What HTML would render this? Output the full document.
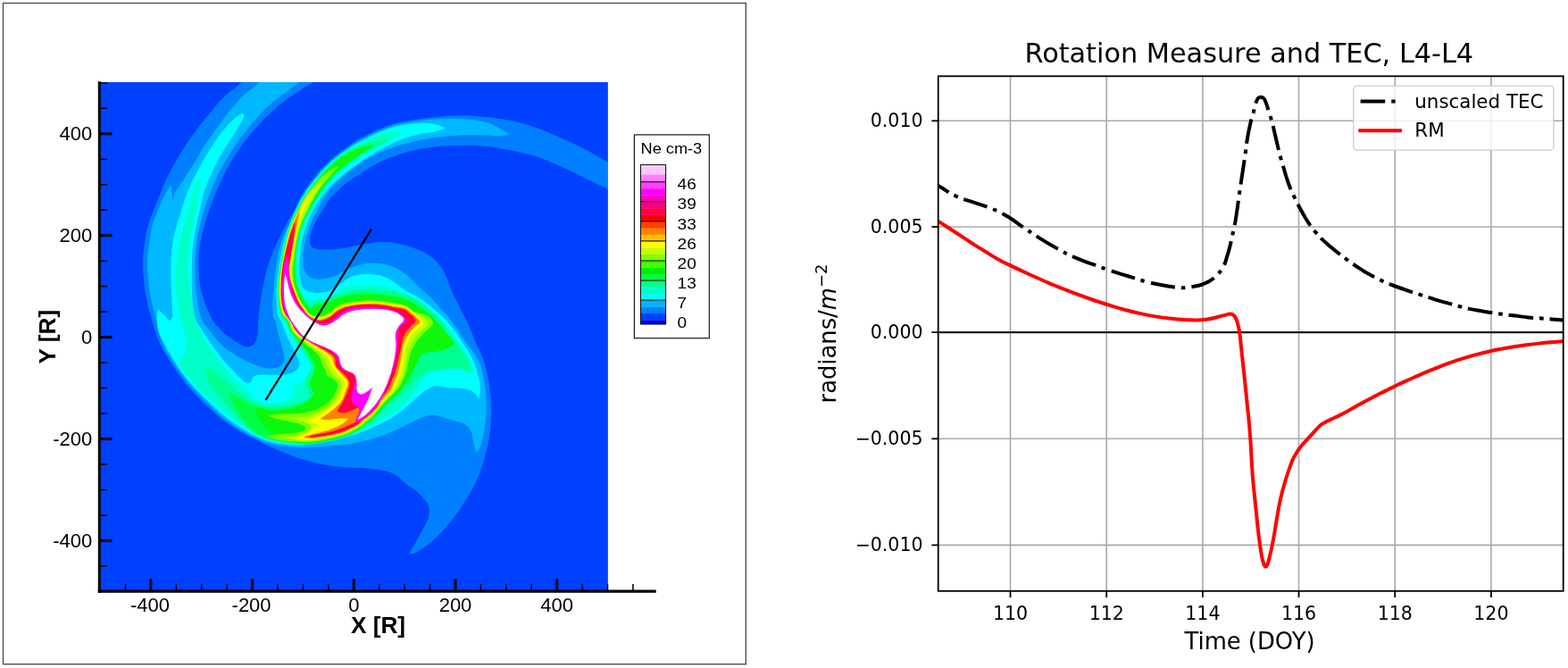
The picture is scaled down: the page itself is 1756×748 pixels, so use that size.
<!DOCTYPE html>
<html lang="en"><head><meta charset="utf-8"><title>Rotation Measure and TEC, L4-L4</title>
<style>html,body{margin:0;padding:0;background:#fff;overflow:hidden}svg{display:block}.h{font-family:"Liberation Sans",Arial,Helvetica,sans-serif;fill:#000}.d{font-family:"DejaVu Sans","Liberation Sans",sans-serif;fill:#000}</style></head><body>
<svg width="1756" height="748" viewBox="0 0 1756 748">
<rect width="1756" height="748" fill="#fff"/>
<g id="left">
<rect x="3.5" y="3.5" width="831.8" height="740.2" fill="#fff" stroke="#505050" stroke-width="1.4"/>
<defs><clipPath id="pc"><rect x="111.5" y="92" width="569.1" height="570"/></clipPath></defs>
<rect x="111.5" y="92" width="569.1" height="570" fill="#0040ff"/>
<defs><filter id="bl" x="100" y="80" width="600" height="600" filterUnits="userSpaceOnUse"><feGaussianBlur stdDeviation="0.75"/></filter></defs>
<g clip-path="url(#pc)">
<g filter="url(#bl)">
<rect x="100" y="80" width="600" height="600" fill="#0040ff"/>
<path d="M271.0,86.0C271.0,86.0 272.3,90.0 270.5,92.0C264.3,99.0 260.0,99.7 252.4,107.1C244.6,114.6 243.4,116.8 236.4,125.1C228.9,134.0 227.3,135.9 220.3,145.2C213.7,154.0 212.3,156.0 206.3,165.2C200.6,174.0 199.4,176.1 194.3,185.3C189.4,194.1 188.3,196.1 184.2,205.3C180.2,214.2 179.8,216.4 176.2,225.4C174.4,229.7 173.9,230.6 172.2,235.0C169.4,242.2 168.3,243.6 166.2,251.0C163.7,259.9 163.4,262.0 162.2,271.1C160.7,281.9 160.4,284.3 160.2,295.2C160.0,304.2 160.3,306.2 161.2,315.2C162.1,324.3 162.4,326.3 164.2,335.3C166.0,344.4 166.7,346.4 169.2,355.3C171.2,362.6 171.8,364.2 174.2,371.4C176.3,377.6 176.4,379.1 179.2,385.0C182.7,392.5 183.9,394.0 188.2,401.0C193.4,409.3 194.6,411.2 200.3,419.1C206.3,427.4 207.5,429.4 214.3,437.1C221.1,444.8 222.9,446.2 230.4,453.2C238.3,460.6 239.8,462.5 248.4,469.2C256.1,475.2 258.1,476.2 266.5,481.3C274.4,486.1 276.3,487.0 284.5,491.3C291.7,495.1 293.3,495.9 300.6,499.3C307.7,502.6 309.3,503.3 316.6,506.3C323.8,509.2 325.3,510.0 332.7,512.4C340.7,515.0 342.5,515.5 350.7,517.4C359.7,519.5 361.7,520.0 370.8,521.4C379.7,522.7 381.8,522.7 390.8,523.4C399.8,524.1 401.9,523.7 410.9,524.4C416.4,524.8 417.6,525.1 423.0,526.0C429.1,527.0 430.6,526.8 436.4,528.7C440.9,530.2 441.9,530.8 445.7,533.5C450.3,536.8 450.6,538.5 455.0,542.0C459.6,545.7 461.2,545.7 465.8,549.5C469.7,552.7 470.5,553.6 473.8,557.5C476.7,560.9 477.9,561.5 479.7,565.6C481.1,568.9 480.8,570.0 480.7,573.6C480.6,577.3 480.4,578.2 479.1,581.6C477.2,586.6 476.3,587.5 473.8,592.3C470.9,597.8 470.1,598.9 467.1,604.3C464.1,609.7 463.5,611.0 460.4,616.4C459.3,618.3 457.8,620.4 457.8,620.4C457.8,620.4 460.8,620.5 463.0,619.6C468.1,617.5 469.2,616.8 473.8,613.7C480.2,609.3 481.5,608.2 487.2,603.0C493.3,597.4 494.5,595.9 500.0,589.6C505.1,583.8 506.2,582.5 510.7,576.3C515.8,569.3 516.8,567.6 521.4,560.2C525.8,553.1 527.0,551.7 530.7,544.2C534.8,536.0 535.4,534.0 538.6,525.4C541.2,518.3 541.7,516.6 543.6,509.3C545.7,501.3 546.2,499.5 547.6,491.3C548.9,483.2 549.0,481.4 549.6,473.2C550.2,465.1 550.4,463.3 550.2,455.2C550.0,447.0 549.6,445.2 548.6,437.1C547.6,429.0 547.4,427.1 545.6,419.1C543.8,410.9 543.4,409.0 540.6,401.0C538.0,393.6 536.6,392.2 533.5,385.0C531.6,380.7 531.3,379.7 529.5,375.4C526.4,368.1 525.8,366.5 522.5,359.3C519.1,352.0 518.1,350.5 514.5,343.3C510.9,336.1 509.7,334.7 506.5,327.3C503.4,320.2 503.7,318.2 500.4,311.2C497.3,304.6 496.9,302.9 492.4,297.2C487.8,291.4 486.5,290.2 480.4,286.1C473.7,281.6 471.8,281.1 464.3,278.1C457.3,275.4 455.6,275.1 448.3,273.5C441.2,271.9 439.6,271.6 432.3,271.1C426.9,270.7 425.6,270.8 420.2,271.5C411.1,272.6 409.2,273.5 400.2,275.1C391.2,276.7 389.2,277.6 380.1,278.6C371.1,279.6 369.0,279.8 360.0,279.5C355.9,279.3 354.7,279.4 351.0,277.5C348.7,276.3 348.4,275.4 347.5,273.0C346.6,270.5 347.0,269.7 347.2,267.0C347.5,263.7 347.6,263.0 348.7,259.9C350.8,253.9 351.4,252.5 354.3,246.8C357.4,240.8 358.3,239.6 362.0,234.0C365.9,228.0 366.5,226.5 371.0,221.0C375.1,216.1 376.2,215.2 381.0,211.0C386.2,206.4 387.4,205.5 393.0,201.5C398.7,197.4 400.1,196.7 406.0,193.0C412.3,189.0 413.5,187.7 420.2,184.3C429.0,179.8 431.0,178.8 440.3,175.3C449.1,172.0 451.2,171.5 460.3,169.2C469.2,166.9 471.3,166.6 480.4,165.2C489.3,163.9 491.4,163.7 500.4,163.2C509.4,162.7 511.5,162.7 520.5,162.8C529.6,162.9 531.6,162.8 540.6,163.6C549.6,164.4 551.6,164.7 560.6,166.2C569.7,167.7 571.7,168.2 580.7,170.2C589.8,172.3 591.9,172.4 600.7,175.3C610.0,178.3 611.8,179.5 620.8,183.3C629.9,187.2 631.9,188.1 640.8,192.3C649.9,196.6 651.8,197.9 660.9,202.3C669.6,206.5 671.6,207.3 680.4,211.4C685.6,213.9 692.0,217.0 692.0,217.0C692.0,217.0 692.0,187.0 692.0,187.0C692.0,187.0 685.5,184.1 680.4,181.3C671.5,176.5 669.8,174.9 660.9,170.2C652.0,165.4 649.9,164.5 640.8,160.2C631.9,156.0 629.9,155.1 620.8,151.2C611.8,147.4 609.9,146.4 600.7,143.2C591.8,140.1 589.8,139.4 580.7,137.1C571.8,134.8 569.7,134.6 560.6,133.1C551.6,131.7 549.6,131.5 540.6,130.7C531.6,129.9 529.6,129.6 520.5,129.5C511.5,129.4 509.4,129.5 500.4,130.1C491.4,130.7 489.4,131.1 480.4,132.1C471.3,133.1 469.3,133.3 460.3,134.7C453.4,135.8 451.8,135.8 445.0,137.5C438.1,139.3 436.6,139.9 430.0,142.5C420.8,146.2 418.7,146.9 410.0,151.5C400.7,156.4 398.6,157.6 390.0,163.5C380.6,170.0 378.4,171.3 370.0,179.0C361.3,186.9 359.6,189.0 352.0,198.0C345.6,205.7 344.3,207.5 339.0,216.0C334.8,222.8 334.7,224.9 331.0,232.0C326.5,240.6 325.1,242.4 320.6,251.0C316.8,258.2 316.0,259.8 312.6,267.1C308.8,275.1 307.8,276.8 304.6,285.1C301.5,293.1 300.9,294.9 298.6,303.2C296.4,311.2 296.1,313.0 294.5,321.2C292.9,329.3 292.7,331.1 291.5,339.3C290.4,346.5 290.1,348.1 289.5,355.3C288.9,361.9 289.3,363.4 288.8,370.0C288.5,373.7 288.7,374.5 287.8,378.1C287.1,380.9 287.0,381.7 285.3,384.1C283.9,386.1 283.5,386.7 281.2,387.6C278.7,388.6 277.9,388.6 275.2,388.1C271.8,387.5 271.2,386.7 268.2,385.1C264.5,383.1 263.7,382.5 260.2,380.1C256.5,377.5 255.6,377.0 252.2,374.0C248.8,371.1 248.2,370.3 245.1,367.0C242.3,364.0 241.3,363.5 239.1,360.0C235.8,354.9 235.4,353.6 233.0,348.0C230.2,341.4 229.6,339.9 227.5,333.0C225.5,326.4 225.1,324.8 224.0,318.0C222.9,311.4 223.0,309.9 222.7,303.2C222.4,295.1 222.1,293.2 222.7,285.1C223.3,276.9 223.8,275.1 225.4,267.1C226.8,259.8 227.4,258.2 229.4,251.0C231.4,243.7 231.9,242.1 234.4,235.0C236.9,227.9 237.5,226.3 240.4,219.4C243.8,211.2 244.6,209.4 248.4,201.3C251.8,194.0 252.4,192.3 256.4,185.3C260.6,177.9 261.8,176.3 266.5,169.2C270.8,162.8 271.7,161.3 276.5,155.2C281.6,148.7 282.9,147.3 288.5,141.2C294.6,134.6 296.0,133.2 302.6,127.1C309.6,120.6 311.1,119.0 318.6,113.1C325.5,107.7 327.3,106.8 334.7,102.0C341.8,97.3 343.5,96.5 350.7,92.0C354.9,89.3 360.0,86.0 360.0,86.0C360.0,86.0 271.0,86.0 271.0,86.0Z" fill="#0080ff"/>
<path d="M291.0,86.0C291.0,86.0 292.3,90.0 290.5,92.0C284.3,99.0 280.1,99.7 272.5,107.1C265.6,113.8 264.5,115.7 258.4,123.1C251.9,131.0 250.5,132.9 244.4,141.2C237.9,150.1 236.4,152.0 230.4,161.2C224.6,170.0 223.8,172.3 218.3,181.3C213.9,188.5 212.9,190.2 208.3,197.3C204.8,202.8 203.8,203.9 200.3,209.3C198.0,212.9 197.0,213.5 195.3,217.4C193.8,220.8 193.3,225.4 193.3,225.4C193.3,225.4 191.8,207.3 191.8,207.3C191.8,207.3 188.4,211.6 186.2,215.4C183.2,220.6 182.7,221.9 180.2,227.4C178.7,230.7 178.5,231.6 177.2,235.0C174.5,242.2 173.3,243.6 171.2,251.0C168.7,259.9 168.4,262.0 167.2,271.1C165.7,281.9 165.4,284.3 165.2,295.2C165.0,304.2 165.3,306.2 166.2,315.2C167.1,324.3 167.5,326.3 169.2,335.3C170.6,342.6 171.3,344.1 173.2,351.3C174.9,357.7 175.5,359.0 177.2,365.4C179.5,374.2 178.8,376.5 182.2,385.0C185.3,392.7 186.9,394.0 191.3,401.0C196.4,409.3 197.5,411.2 203.3,419.1C209.2,427.1 210.6,428.8 217.3,436.1C224.2,443.7 226.0,445.1 233.4,452.2C240.9,459.4 242.3,461.4 250.4,468.0C258.1,474.2 260.1,475.3 268.5,480.6C276.4,485.5 278.1,486.7 286.5,490.6C293.5,493.9 295.2,494.5 302.6,496.6C309.7,498.6 311.3,498.6 318.6,499.6C325.8,500.6 327.4,500.8 334.7,501.0C341.9,501.2 343.5,500.9 350.7,500.6C357.6,500.3 359.1,500.1 366.0,499.5C373.2,498.9 374.8,498.8 382.0,498.0C390.2,497.0 392.1,497.0 400.2,495.5C407.5,494.1 409.1,493.6 416.2,491.5C423.5,489.3 425.1,488.7 432.3,486.0C439.6,483.2 441.2,482.6 448.3,479.3C455.6,475.9 457.0,474.6 464.3,471.2C469.6,468.7 470.8,468.0 476.4,466.2C479.9,465.1 480.7,464.6 484.4,464.8C489.9,465.1 491.1,465.8 496.4,467.2C501.9,468.7 503.1,469.4 508.5,471.2C513.9,473.0 515.7,472.2 520.5,475.3C524.5,477.9 525.5,478.9 527.5,483.3C530.2,489.2 528.9,491.1 530.5,497.3C531.6,501.4 533.5,506.3 533.5,506.3C533.5,506.3 536.4,504.0 537.5,501.3C539.6,496.2 539.4,494.8 540.6,489.3C542.2,482.1 542.7,480.5 543.6,473.2C544.5,465.1 544.6,463.3 544.6,455.2C544.6,447.0 544.4,445.2 543.6,437.1C543.0,431.0 542.6,429.6 541.5,423.6C540.3,417.4 540.4,416.0 538.5,410.0C537.0,405.3 536.2,404.4 533.8,400.0C532.0,396.8 531.4,396.2 529.3,393.2C526.7,389.5 525.9,388.8 523.3,385.2C520.1,380.7 519.4,379.7 516.2,375.2C513.0,370.7 512.4,369.6 509.2,365.1C506.1,360.6 505.6,359.4 502.2,355.1C498.4,350.4 497.3,349.6 493.2,345.1C488.7,340.1 487.9,338.8 483.1,334.0C478.8,329.7 477.5,329.2 473.1,325.0C468.5,320.6 467.7,319.4 463.0,315.0C458.3,310.6 457.7,309.0 452.3,305.5C445.6,301.1 443.9,300.0 436.3,297.5C429.3,295.2 427.5,295.1 420.2,294.8C413.0,294.5 411.2,294.6 404.2,296.2C396.7,297.9 395.2,299.1 388.1,302.2C381.6,305.0 380.7,306.8 374.1,309.2C368.0,311.4 366.6,312.0 360.1,312.4C354.6,312.7 352.9,313.3 348.0,310.8C343.9,308.7 343.1,307.3 341.3,303.0C339.1,297.5 339.6,295.9 339.5,290.0C339.4,283.2 339.7,281.7 341.0,275.0C342.5,267.2 343.1,265.5 345.5,258.0C347.4,252.0 347.9,250.7 350.5,245.0C352.6,240.3 353.6,239.5 356.0,235.0C359.7,228.0 359.5,225.8 364.1,219.4C370.4,210.6 372.2,208.8 380.1,201.3C388.5,193.4 390.7,191.9 400.2,185.3C408.8,179.3 410.8,177.9 420.2,173.2C428.9,168.8 431.1,168.4 440.3,165.2C449.2,162.1 451.2,161.5 460.3,159.2C469.2,157.0 471.3,156.7 480.4,155.2C489.4,153.8 491.4,153.7 500.4,152.8C509.4,151.9 511.4,151.6 520.5,151.2C529.5,150.8 531.6,151.0 540.6,151.2C549.6,151.4 551.6,152.5 560.6,152.2C565.2,152.0 570.6,150.2 570.6,150.2C570.6,150.2 563.2,145.3 556.6,142.2C549.6,138.9 548.1,137.9 540.6,136.1C531.7,134.0 529.6,134.2 520.5,133.5C511.5,132.8 509.4,133.0 500.4,133.1C491.4,133.2 489.4,133.3 480.4,134.1C471.3,134.9 469.3,135.3 460.3,136.7C453.4,137.8 451.8,137.8 445.0,139.5C438.1,141.3 436.6,141.9 430.0,144.5C420.8,148.2 418.7,148.9 410.0,153.5C400.7,158.4 398.6,159.5 390.0,165.5C380.6,172.1 378.4,173.6 370.0,181.5C361.7,189.2 360.2,191.3 353.0,200.0C346.9,207.5 345.7,209.3 340.5,217.5C336.6,223.7 336.1,225.4 332.8,232.0C328.5,240.5 327.6,242.4 323.6,251.0C320.3,258.2 319.2,259.6 316.6,267.1C313.8,275.0 313.4,276.9 311.6,285.1C309.8,293.2 309.7,295.0 308.6,303.2C307.5,311.3 307.3,313.1 306.6,321.2C305.9,329.3 305.7,331.1 305.6,339.3C305.5,346.5 305.1,348.4 306.2,355.3C306.6,357.7 308.0,357.7 308.8,360.0C309.7,362.6 309.2,363.3 309.8,366.0C310.6,369.6 310.9,370.4 311.8,374.0C312.9,378.1 313.2,379.0 314.3,383.1C315.4,387.2 315.8,388.0 316.8,392.1C317.7,395.7 318.2,396.4 318.4,400.1C318.5,402.8 318.6,403.7 317.4,406.1C316.2,408.4 315.6,408.9 313.3,410.2C310.4,411.8 309.5,411.8 306.3,412.2C302.7,412.7 301.9,412.6 298.3,412.2C294.6,411.7 293.8,411.3 290.3,410.2C286.6,409.0 285.8,408.6 282.2,407.1C278.1,405.4 277.2,405.1 273.2,403.1C269.1,401.0 268.2,400.5 264.2,398.1C260.0,395.6 259.1,395.0 255.2,392.1C251.4,389.2 250.5,388.5 247.1,385.1C243.7,381.7 243.1,380.8 240.1,377.1C236.8,373.1 236.2,372.1 233.1,368.0C230.4,364.4 229.0,364.1 227.1,360.0C224.1,353.6 224.0,351.9 222.5,345.0C220.6,336.1 220.4,334.1 219.5,325.0C218.6,315.1 218.6,312.9 218.5,303.0C218.4,294.9 218.4,293.1 218.9,285.1C219.4,277.0 219.6,275.1 220.9,267.1C222.1,259.8 222.5,258.2 224.3,251.0C226.1,243.7 226.8,242.2 228.8,235.0C229.5,232.5 229.5,231.9 230.4,229.4C232.9,222.2 233.5,220.5 236.4,213.4C239.8,205.2 240.4,203.3 244.4,195.3C248.5,187.0 249.7,185.3 254.4,177.3C258.7,169.9 259.7,168.2 264.5,161.2C269.6,153.8 270.8,152.2 276.5,145.2C282.5,137.7 283.9,136.1 290.5,129.1C296.6,122.6 297.8,120.9 304.6,115.1C311.4,109.2 313.5,108.6 320.6,103.1C327.0,98.2 328.4,97.0 334.7,92.0C338.0,89.3 342.0,86.0 342.0,86.0C342.0,86.0 291.0,86.0 291.0,86.0Z" fill="#00b8ff"/>
<path d="M271.5,127.1C271.5,127.1 267.3,128.8 264.5,131.1C258.6,136.1 257.4,137.4 252.4,143.2C246.5,150.0 245.5,151.8 240.4,159.2C235.6,166.2 234.7,168.0 230.4,175.3C225.7,183.3 224.7,185.1 220.3,193.3C216.5,200.4 215.5,201.9 212.3,209.3C209.2,216.4 208.9,218.1 206.3,225.4C204.8,229.7 204.7,230.7 203.3,235.0C201.1,242.2 200.3,243.7 198.3,251.0C196.3,258.2 195.7,259.8 194.3,267.1C192.8,275.1 192.5,277.0 191.9,285.1C191.2,294.1 191.3,296.2 191.3,305.2C191.3,314.2 191.6,316.3 191.9,325.3C192.2,333.4 192.8,335.2 192.7,343.3C192.6,349.9 194.3,354.7 191.5,358.0C189.0,361.0 187.2,355.8 184.2,353.3C180.7,350.3 177.2,345.9 177.2,345.9C177.2,345.9 175.7,351.0 175.8,355.3C176.0,362.6 175.8,364.4 177.8,371.4C179.6,377.9 181.1,379.0 184.2,385.0C188.0,392.3 188.9,394.0 193.3,401.0C198.4,409.3 199.4,411.3 205.3,419.1C211.1,426.8 212.7,428.4 219.3,435.5C226.2,442.9 228.0,444.3 235.4,451.2C242.9,458.2 244.4,460.1 252.4,466.5C260.2,472.7 262.1,474.0 270.5,479.3C278.3,484.2 280.1,485.4 288.5,489.3C295.5,492.5 297.2,493.1 304.6,495.0C311.7,496.8 313.3,496.8 320.6,497.6C327.8,498.4 329.5,498.7 336.7,498.4C345.4,498.1 347.4,497.5 356.0,496.3C363.3,495.2 364.9,494.9 372.1,493.3C379.4,491.7 381.0,491.3 388.1,489.3C395.4,487.3 397.1,487.0 404.2,484.3C411.6,481.5 413.1,480.6 420.2,477.3C426.6,474.3 428.1,473.7 434.3,470.2C440.8,466.5 442.3,465.6 448.3,461.2C454.0,457.1 455.0,455.8 460.3,451.2C464.9,447.2 465.6,446.0 470.4,442.2C474.7,438.7 475.6,437.8 480.4,435.1C483.8,433.2 484.6,432.3 488.4,432.1C493.9,431.8 495.0,433.5 500.4,434.1C507.6,434.9 509.3,434.3 516.5,435.1C521.1,435.6 522.2,435.5 526.5,437.1C529.6,438.3 530.2,438.9 532.5,441.2C534.8,443.5 536.5,447.2 536.5,447.2C536.5,447.2 537.9,439.5 537.8,433.1C537.8,428.8 537.3,427.8 536.3,423.6C534.9,417.4 534.5,416.0 532.5,410.0C530.9,405.4 530.4,404.4 528.3,400.0C526.3,395.9 525.7,395.1 523.3,391.2C520.7,387.0 519.9,386.3 517.2,382.2C514.5,378.1 514.1,377.1 511.2,373.1C508.2,368.9 507.5,368.1 504.2,364.1C501.2,360.4 500.6,359.5 497.2,356.1C493.3,352.3 492.3,351.6 488.1,348.1C483.2,343.9 482.3,342.8 477.1,339.0C471.9,335.1 470.7,334.3 465.1,331.0C459.8,327.8 458.2,327.8 453.0,324.5C447.8,321.2 447.2,319.8 442.0,316.5C436.9,313.3 435.9,312.4 430.3,310.1C426.0,308.3 424.8,308.3 420.2,307.6C415.7,306.9 414.7,307.0 410.2,307.0C405.7,307.0 404.6,306.8 400.2,307.8C395.5,308.9 394.4,309.1 390.2,311.5C385.3,314.3 384.9,315.9 380.2,319.1C375.8,322.1 375.0,323.0 370.1,325.1C365.8,327.0 364.7,327.3 360.0,327.8C355.5,328.3 354.4,328.4 350.0,327.3C345.2,326.2 343.3,326.6 340.0,323.0C336.5,319.1 337.4,317.1 336.3,312.0C335.2,306.7 335.3,305.4 335.2,300.0C335.1,294.1 335.2,292.8 335.8,287.0C336.7,278.9 336.7,277.0 338.5,269.0C340.5,260.3 341.2,258.4 344.3,250.0C346.9,243.1 347.3,241.4 351.0,235.0C356.3,225.8 357.4,223.6 364.1,215.4C370.6,207.5 372.4,206.1 380.1,199.3C387.8,192.5 389.9,191.3 398.2,185.3C406.1,179.6 407.9,178.3 416.2,173.2C424.1,168.3 426.0,167.4 434.3,163.2C442.2,159.2 444.0,158.2 452.3,155.2C460.3,152.3 462.2,152.0 470.4,150.2C478.4,148.4 480.4,149.0 488.4,147.2C493.5,146.0 499.4,143.6 499.4,143.6C499.4,143.6 495.7,141.7 492.4,140.8C487.1,139.3 485.9,138.5 480.4,138.1C471.4,137.5 469.3,137.9 460.3,138.7C453.4,139.3 451.8,139.6 445.0,141.2C438.1,142.9 436.6,143.4 430.0,146.0C420.8,149.7 418.8,150.6 410.0,155.2C400.3,160.3 398.0,161.3 389.0,167.5C379.3,174.1 377.1,175.6 368.5,183.5C360.4,190.9 359.0,193.0 352.0,201.5C345.9,209.0 344.7,210.8 339.5,219.0C335.9,224.6 335.3,226.0 332.5,232.0C328.6,240.4 327.8,242.3 324.5,251.0C321.8,258.1 321.3,259.8 319.2,267.1C316.9,275.1 316.5,276.9 314.8,285.1C313.1,293.2 312.8,295.0 311.7,303.2C310.6,311.3 310.2,313.1 309.8,321.2C309.4,329.3 309.5,331.2 310.0,339.3C310.5,346.5 310.2,348.4 312.0,355.3C312.6,357.8 314.1,357.7 315.3,360.0C316.6,362.6 316.4,363.3 317.4,366.0C318.7,369.6 318.9,370.4 320.4,374.0C322.1,378.1 322.5,379.0 324.4,383.1C326.1,386.7 326.6,387.5 328.4,391.1C330.2,394.7 330.7,395.4 332.4,399.1C333.6,401.8 334.4,402.2 334.9,405.1C335.3,407.8 335.6,408.7 334.4,411.2C333.0,414.1 332.2,414.6 329.4,416.2C325.7,418.3 324.6,418.4 320.4,419.2C315.9,420.0 314.8,419.6 310.3,419.7C305.8,419.8 304.8,419.7 300.3,419.7C295.8,419.7 294.8,419.4 290.3,419.7C288.0,419.9 287.3,419.6 285.3,420.7C283.5,421.7 283.4,422.5 282.2,424.2C281.1,425.9 281.9,427.2 280.2,428.2C278.2,429.3 277.2,429.1 275.2,428.2C272.0,426.7 271.8,425.6 269.2,423.2C265.9,420.2 265.3,419.4 262.2,416.2C259.0,413.0 258.3,412.4 255.2,409.1C252.4,406.0 251.7,405.4 249.1,402.1C246.3,398.6 245.8,397.7 243.1,394.1C240.4,390.5 239.7,389.8 237.1,386.1C234.3,382.1 233.8,381.2 231.1,377.1C228.4,373.0 227.8,372.1 225.1,368.0C222.8,364.4 221.6,364.0 220.1,360.0C217.7,353.5 217.5,351.9 216.5,345.0C215.2,336.1 215.3,334.0 215.0,325.0C214.6,315.2 214.8,313.0 214.9,303.2C215.0,295.1 214.8,293.2 215.3,285.1C215.8,277.0 216.1,275.2 217.3,267.1C218.4,259.8 218.8,258.2 220.3,251.0C221.8,243.8 222.3,242.2 223.9,235.0C225.1,229.8 225.0,228.6 226.4,223.4C228.4,216.1 228.7,214.4 231.4,207.3C234.2,199.9 235.1,198.4 238.4,191.3C241.8,184.0 242.5,182.3 246.4,175.3C250.6,167.9 251.9,166.4 256.4,159.2C260.9,152.0 262.2,150.5 266.5,143.2C269.9,137.4 271.8,135.5 273.5,130.1C274.0,128.6 271.5,127.1 271.5,127.1Z" fill="#00ffff"/>
<path d="M222.3,199.3C222.3,199.3 219.9,204.7 218.3,209.3C216.3,214.7 215.8,215.9 214.3,221.4C212.7,227.4 212.9,228.9 211.3,235.0C209.3,242.3 208.4,243.8 206.3,251.0C203.9,259.1 203.1,260.9 201.3,269.1C199.5,277.1 199.3,279.0 198.3,287.1C197.3,295.2 196.9,297.0 196.7,305.2C196.5,313.3 196.7,315.1 197.3,323.2C197.9,331.4 198.1,333.2 199.3,341.3C200.4,348.5 200.6,350.2 202.3,357.3C203.8,363.7 204.7,365.0 206.3,371.4C207.8,377.5 209.3,378.8 209.0,385.0C208.7,390.7 206.8,391.6 205.0,397.0C203.3,402.0 199.9,403.0 201.3,408.1C203.6,416.2 207.1,416.5 212.3,423.1C217.5,429.6 218.4,431.2 224.3,437.1C231.1,443.9 233.1,444.9 240.4,451.2C247.6,457.4 249.0,459.0 256.4,465.0C263.5,470.8 264.9,472.3 272.5,477.5C280.3,482.8 282.0,484.2 290.5,488.3C297.4,491.6 299.2,491.9 306.6,493.8C312.8,495.4 314.3,495.4 320.6,496.2C327.8,497.1 329.4,497.8 336.7,497.4C344.6,497.0 346.2,495.7 354.0,494.3C361.2,493.0 362.9,492.9 370.1,491.3C377.4,489.7 379.0,489.3 386.1,487.3C393.4,485.3 395.1,485.0 402.2,482.3C409.6,479.5 411.2,478.8 418.2,475.3C424.7,472.0 426.1,471.2 432.3,467.2C438.8,463.0 440.4,462.2 446.3,457.2C452.1,452.3 453.1,450.8 458.3,445.2C463.1,440.0 464.2,438.8 468.4,433.1C471.5,429.0 471.2,427.4 474.5,423.5C477.4,420.1 478.0,418.9 482.0,417.0C487.2,414.5 488.7,414.9 494.4,414.0C501.1,412.9 502.7,412.6 509.5,412.6C515.2,412.6 516.5,412.9 522.0,414.2C524.9,414.9 525.8,418.4 528.0,417.0C530.2,415.6 529.3,413.1 528.6,410.0C527.6,405.2 526.6,404.3 524.3,400.0C522.3,396.3 521.5,395.7 519.2,392.2C516.5,388.1 515.9,387.3 513.2,383.2C510.5,379.1 510.1,378.1 507.2,374.1C504.2,369.9 503.6,368.9 500.2,365.1C496.8,361.3 495.9,360.6 492.2,357.1C488.2,353.4 487.3,352.6 483.1,349.1C478.3,345.1 477.3,344.0 472.1,340.5C466.9,337.0 465.6,336.5 460.1,333.5C455.6,331.1 454.6,330.7 450.0,328.5C445.5,326.4 444.6,325.7 440.0,324.0C435.7,322.4 434.8,321.7 430.3,321.1C421.3,319.9 419.2,320.5 410.2,320.1C405.6,319.9 404.6,319.7 400.0,319.8C395.6,319.9 394.4,319.2 390.2,320.5C385.3,322.1 384.6,323.5 380.2,326.1C375.6,328.9 374.8,329.9 370.1,332.5C365.7,334.9 364.9,336.1 360.0,337.0C355.6,337.8 354.4,337.3 350.1,336.0C345.4,334.6 343.1,335.1 340.5,331.0C335.8,323.5 337.3,320.6 335.3,312.0C334.1,306.7 333.8,305.5 333.5,300.0C333.2,294.2 333.4,292.8 334.0,287.0C334.8,278.9 334.8,277.0 336.5,269.0C338.3,260.3 338.7,258.3 341.8,250.0C344.4,243.0 345.4,241.5 349.0,235.0C354.5,225.1 355.5,222.6 362.1,213.4C367.7,205.6 369.3,204.1 376.1,197.3C382.9,190.5 384.7,189.3 392.1,183.3C399.1,177.6 400.6,176.2 408.2,171.2C415.1,166.7 416.9,166.1 424.2,162.2C431.3,158.4 432.9,157.5 440.3,154.2C445.6,151.8 452.3,149.6 452.3,149.6C452.3,149.6 445.8,147.2 440.3,147.2C434.7,147.2 433.4,147.8 428.0,149.5C419.7,152.2 417.8,153.0 410.0,157.0C400.2,162.0 398.1,163.3 389.0,169.5C379.4,176.1 377.1,177.6 368.5,185.5C360.6,192.7 359.2,194.7 352.5,203.0C346.4,210.5 345.4,212.5 340.0,220.5C336.6,225.5 335.6,226.5 333.0,232.0C329.0,240.3 328.4,242.3 325.2,251.0C322.6,258.1 322.2,259.8 320.2,267.1C318.0,275.1 317.5,276.9 315.8,285.1C314.1,293.2 313.8,295.0 312.6,303.2C311.4,311.3 310.9,313.1 310.6,321.2C310.3,329.3 310.5,331.2 311.2,339.3C311.8,346.6 311.2,348.4 313.6,355.3C314.6,358.2 316.8,357.5 318.5,360.0C320.7,363.3 320.2,364.5 322.0,368.0C324.1,372.1 324.4,373.2 327.0,377.0C329.6,380.8 330.8,381.2 333.4,385.0C335.8,388.4 335.9,389.4 338.0,393.0C339.9,396.2 340.3,396.9 342.4,400.0C343.9,402.3 344.5,402.7 346.0,405.0C347.4,407.2 348.2,407.5 349.0,410.0C349.8,412.6 350.3,413.4 349.5,416.0C348.4,419.6 347.7,420.4 345.0,423.0C341.5,426.4 340.0,426.2 336.0,429.0C332.3,431.6 329.8,431.0 328.0,435.0C326.8,437.7 331.4,438.2 330.6,441.0C329.6,444.7 327.9,445.1 324.6,447.0C319.6,449.8 318.2,450.2 312.6,451.0C305.4,452.0 303.6,452.2 296.5,451.0C290.5,450.0 288.8,449.8 284.0,446.0C279.2,442.2 280.1,439.6 276.2,435.0C274.8,433.3 273.9,433.6 272.2,432.2C268.5,429.2 267.7,428.5 264.2,425.2C260.9,422.2 260.2,421.5 257.2,418.2C253.9,414.7 253.2,413.9 250.2,410.2C247.3,406.7 246.7,405.8 244.1,402.1C241.3,398.1 240.7,397.2 238.1,393.1C235.8,389.5 235.3,388.7 233.1,385.1C230.8,381.5 230.2,380.8 228.1,377.1C225.7,373.1 225.3,372.1 223.1,368.0C221.2,364.4 220.2,363.9 219.1,360.0C216.6,350.9 216.9,348.6 215.3,339.3C213.9,331.2 213.3,329.4 212.3,321.2C211.3,313.1 211.1,311.3 210.9,303.2C210.7,295.1 210.8,293.2 211.3,285.1C211.8,277.0 212.1,275.2 213.3,267.1C214.4,259.8 214.8,258.2 216.3,251.0C217.8,243.8 218.7,242.3 219.9,235.0C220.9,228.9 220.5,227.5 221.3,221.4C222.0,215.9 223.1,214.8 223.3,209.3C223.5,204.8 222.3,199.3 222.3,199.3Z" fill="#00ffc8"/>
<path d="M437.0,155.0C437.0,155.0 430.4,156.4 425.0,157.5C418.3,158.9 416.7,158.4 410.2,160.5C399.9,163.8 397.2,164.0 388.0,169.5C378.3,175.3 376.7,177.7 368.5,185.5C360.9,192.8 359.5,194.7 353.0,203.0C346.9,210.7 345.7,212.6 340.5,221.0C336.8,227.0 336.4,228.6 333.3,235.0C329.8,242.1 328.7,243.6 325.8,251.0C323.1,258.0 322.9,259.7 321.0,267.0C318.9,275.0 318.5,276.9 316.8,285.0C315.1,293.1 314.7,294.9 313.5,303.0C312.3,311.1 311.7,312.9 311.5,321.0C311.3,329.1 311.6,330.9 312.5,339.0C313.2,344.9 312.8,346.5 315.0,352.0C316.7,356.2 318.8,356.1 320.9,360.0C323.2,364.2 322.7,365.6 324.6,370.0C326.6,374.6 326.7,375.8 329.4,380.0C332.5,384.9 333.8,385.5 337.4,390.0C339.2,392.3 339.8,392.6 341.5,395.0C343.0,397.1 343.3,397.6 344.4,400.0C346.4,404.4 348.4,405.2 348.4,410.0C348.4,414.8 345.9,415.4 344.4,420.0C343.0,424.4 341.7,425.4 342.0,430.0C342.2,433.9 344.7,434.2 345.5,438.0C346.1,440.9 346.3,441.9 345.0,444.5C343.6,447.2 342.7,447.6 340.0,449.0C336.2,451.0 335.2,451.0 331.0,452.0C325.2,453.4 323.9,453.6 318.0,454.2C311.7,454.9 310.3,455.2 304.0,454.8C297.6,454.4 296.1,454.4 290.0,452.5C283.8,450.6 282.6,449.7 277.0,446.5C271.3,443.2 270.2,442.1 265.0,438.0C259.8,433.8 259.0,432.4 254.0,428.0C249.1,423.7 248.2,422.4 243.0,418.5C238.5,415.1 232.5,411.8 232.5,411.8C232.5,411.8 229.3,414.0 229.5,416.5C230.0,421.9 231.3,423.1 234.0,428.0C237.4,434.2 238.7,435.3 243.0,441.0C247.3,446.6 248.4,447.7 253.0,453.0C257.4,458.0 258.4,459.1 263.0,464.0C267.4,468.8 268.3,469.9 273.0,474.5C277.3,478.7 278.0,480.0 283.0,483.5C288.5,487.3 289.8,488.1 296.0,490.6C302.0,493.0 303.6,492.9 310.0,494.2C315.3,495.3 316.6,495.4 322.0,496.0C330.1,496.9 331.9,497.1 340.0,497.4C344.0,497.6 345.0,497.4 349.0,497.1C353.1,496.8 354.0,496.7 358.0,496.1C362.5,495.4 363.5,495.2 368.0,494.3C372.5,493.4 373.5,493.2 378.0,492.0C382.8,490.7 383.9,490.6 388.5,488.8C392.9,487.1 393.8,486.6 398.0,484.4C402.4,482.1 403.4,481.8 407.5,479.0C410.1,477.2 410.4,476.3 412.8,474.3C416.3,471.4 417.4,471.2 420.6,468.0C425.4,463.3 425.7,461.6 430.5,457.0C435.3,452.4 436.8,451.7 442.0,447.5C447.8,442.7 449.4,442.0 455.0,437.0C459.3,433.2 460.0,432.1 464.0,428.0C466.8,425.1 466.9,423.9 470.0,421.5C473.7,418.7 474.6,417.8 479.0,416.4C485.3,414.4 486.9,414.8 493.5,414.0C500.7,413.2 502.3,412.7 509.5,412.8C514.7,412.8 515.9,413.0 521.0,414.2C523.4,414.8 524.1,417.8 526.0,416.6C527.9,415.4 527.3,413.2 526.6,410.5C525.3,405.5 524.3,404.6 521.8,400.0C520.0,396.7 519.1,396.2 517.0,393.0C514.3,389.0 513.7,388.1 511.0,384.0C508.3,379.9 507.7,379.1 505.0,375.0C502.3,370.9 501.7,370.0 499.0,366.0C496.6,362.4 496.3,361.3 493.5,358.0C490.0,353.9 489.0,353.1 485.0,349.5C480.2,345.2 479.1,344.3 474.0,340.5C469.7,337.3 468.7,336.6 464.0,334.0C459.7,331.6 458.7,331.1 454.0,329.5C448.7,327.7 447.5,327.4 442.0,326.6C434.9,325.5 433.2,325.8 426.0,325.3C418.8,324.8 417.2,324.3 410.0,324.3C402.8,324.3 401.1,324.4 394.0,325.5C387.6,326.5 386.2,326.8 380.0,328.8C373.5,330.9 372.5,332.5 366.0,334.5C359.8,336.4 357.3,334.0 352.0,337.5C349.1,339.4 352.9,347.0 350.0,345.0C344.8,341.5 340.8,336.2 336.5,327.0C332.2,317.8 332.3,315.1 331.2,305.0C330.3,296.9 331.5,295.1 332.2,287.0C332.9,278.9 332.9,277.0 334.5,269.0C336.2,260.8 336.6,258.9 339.5,251.0C342.2,243.5 343.1,241.9 347.0,235.0C351.7,226.8 353.1,225.1 358.6,217.4C363.8,210.1 364.8,208.3 370.8,201.6C376.7,195.0 378.2,193.5 385.0,187.8C392.0,182.0 393.8,181.0 401.5,176.0C408.7,171.4 410.5,170.6 418.0,166.5C423.3,163.6 424.8,163.6 430.0,160.5C433.4,158.4 437.0,155.0 437.0,155.0Z" fill="#00ff90"/>
<path d="M420.0,161.5C420.0,161.5 415.5,162.3 412.0,163.5C402.0,166.8 399.2,166.2 390.0,171.3C379.8,176.9 378.1,179.1 369.5,187.0C361.7,194.2 360.5,196.3 353.8,204.5C347.6,212.1 346.4,213.9 341.0,222.0C337.3,227.6 336.7,229.0 333.7,235.0C330.1,242.1 329.1,243.6 326.2,251.0C323.5,258.0 323.2,259.7 321.3,267.0C319.1,275.0 318.8,276.9 317.1,285.0C315.4,293.1 315.0,294.8 313.8,303.0C312.6,311.1 312.1,312.9 311.9,321.0C311.7,329.1 311.8,331.0 312.9,339.0C313.7,345.0 313.6,346.5 316.0,352.0C317.8,356.1 319.8,356.0 321.9,360.0C324.1,364.2 323.1,365.9 325.5,370.0C328.4,375.0 329.8,375.5 333.4,380.0C337.0,384.5 337.9,385.4 341.4,390.0C343.1,392.2 343.6,392.6 345.0,395.0C346.3,397.1 346.3,397.8 347.4,400.0C349.7,404.5 351.8,405.0 352.5,410.0C353.2,414.5 351.6,415.6 350.4,420.0C349.1,424.6 346.9,425.2 347.0,430.0C347.1,434.4 350.1,434.7 350.7,439.0C351.1,441.6 350.5,442.4 349.0,444.5C346.9,447.3 346.1,447.8 343.0,449.5C338.8,451.9 337.6,452.1 333.0,453.5C327.3,455.2 325.9,455.7 320.0,456.5C313.3,457.5 311.8,457.7 305.0,457.5C298.2,457.3 296.6,457.2 290.0,455.5C283.4,453.8 282.1,452.9 276.0,450.0C270.8,447.5 270.1,446.2 265.0,443.5C262.0,441.9 258.0,440.5 258.0,440.5C258.0,440.5 257.9,444.8 259.0,448.0C260.6,452.8 261.4,453.7 264.0,458.0C267.2,463.2 268.2,464.2 272.0,469.0C276.3,474.4 276.7,476.1 282.0,480.5C287.7,485.2 289.3,486.0 296.0,489.0C302.0,491.7 303.6,491.5 310.0,493.0C315.3,494.2 316.6,494.4 322.0,495.0C330.1,495.9 331.9,496.0 340.0,496.3C344.0,496.4 345.0,496.3 349.0,496.0C353.1,495.7 354.0,495.6 358.0,495.0C362.5,494.3 363.5,494.0 368.0,493.1C372.5,492.2 373.6,492.0 378.0,490.8C382.6,489.5 383.6,489.2 388.0,487.5C392.2,485.9 393.0,485.4 397.0,483.3C401.2,481.1 402.1,480.7 406.0,478.0C408.5,476.3 408.7,475.4 411.0,473.5C414.4,470.7 415.5,470.4 418.8,467.4C423.5,463.0 424.1,461.6 428.6,457.0C433.1,452.4 434.1,451.5 438.7,447.0C443.3,442.5 444.8,441.9 449.0,437.0C453.6,431.5 454.3,430.1 458.0,424.0C461.1,418.8 461.3,417.4 464.0,412.0C465.8,408.4 466.0,407.5 468.0,404.0C469.7,401.0 469.6,399.9 472.1,397.6C474.3,395.5 475.2,395.3 478.1,394.6C483.4,393.3 484.8,394.4 490.2,393.2C495.7,392.0 497.1,391.9 502.2,389.4C505.4,387.8 507.3,387.6 508.2,384.2C508.9,381.6 506.5,381.3 504.8,379.2C502.2,375.9 501.3,375.4 498.6,372.1C496.1,369.0 495.7,368.2 493.2,365.1C490.1,361.4 489.5,360.5 486.1,357.1C482.3,353.3 481.4,352.4 477.1,349.1C471.4,344.8 470.1,343.9 464.0,340.3C459.7,337.8 458.7,337.2 454.0,335.5C448.8,333.6 447.5,333.6 442.0,332.5C434.8,331.1 433.2,330.7 426.0,330.0C418.8,329.3 417.2,329.1 410.0,329.2C402.8,329.3 401.1,329.3 394.0,330.3C387.6,331.2 386.2,331.6 380.0,333.5C373.5,335.5 372.5,337.0 366.0,339.0C359.8,340.9 358.1,340.0 352.0,342.0C349.7,342.8 349.3,346.6 347.5,345.0C342.0,340.0 339.4,335.9 335.5,327.0C331.5,317.7 331.3,315.1 330.2,305.0C329.3,296.9 330.3,295.1 331.0,287.0C331.7,278.9 331.8,277.0 333.5,269.0C335.2,260.8 335.6,258.9 338.5,251.0C341.2,243.5 342.2,242.0 346.0,235.0C350.5,226.8 351.8,225.1 357.0,217.4C361.9,210.2 362.8,208.4 368.5,201.8C374.3,195.1 375.8,193.7 382.5,188.0C389.3,182.2 391.2,181.4 398.5,176.3C404.9,171.9 406.6,171.4 413.0,167.0C416.3,164.7 420.0,161.5 420.0,161.5Z" fill="#00ff40"/>
<path d="M420.0,161.5C420.0,161.5 415.5,162.3 412.0,163.5C402.0,166.8 399.2,166.2 390.0,171.3C379.8,176.9 378.1,179.1 369.5,187.0C361.7,194.2 360.5,196.3 353.8,204.5C347.6,212.1 346.4,213.9 341.0,222.0C337.3,227.6 336.7,229.0 333.7,235.0C330.1,242.1 329.1,243.6 326.2,251.0C323.5,258.0 323.2,259.7 321.3,267.0C319.1,275.0 318.8,276.9 317.1,285.0C315.4,293.1 315.0,294.8 313.8,303.0C312.6,311.1 312.1,312.9 311.9,321.0C311.7,329.1 311.8,331.0 312.9,339.0C313.7,345.0 313.6,346.5 316.0,352.0C317.8,356.1 319.8,356.0 321.9,360.0C324.1,364.2 323.1,365.9 325.5,370.0C328.4,375.0 329.8,375.5 333.4,380.0C337.0,384.5 337.9,385.4 341.4,390.0C343.1,392.2 343.6,392.6 345.0,395.0C346.3,397.1 346.3,397.8 347.4,400.0C349.7,404.5 351.8,405.0 352.5,410.0C353.2,414.5 351.6,415.6 350.4,420.0C349.1,424.6 346.9,425.2 347.0,430.0C347.1,434.4 350.1,434.7 350.7,439.0C351.1,441.6 350.4,442.3 349.0,444.5C347.1,447.6 346.5,448.3 343.5,450.5C339.6,453.4 338.5,453.8 334.0,455.5C328.3,457.6 326.9,457.9 321.0,459.0C315.2,460.1 313.9,460.5 308.0,460.5C302.6,460.5 301.3,460.2 296.0,459.0C292.2,458.2 288.0,456.0 288.0,456.0C288.0,456.0 286.2,458.7 286.5,461.0C286.9,464.4 287.7,465.1 289.5,468.0C291.8,471.9 292.5,472.7 295.5,476.0C298.8,479.7 299.7,480.4 303.5,483.5C307.1,486.5 307.9,487.3 312.0,489.5C316.2,491.7 317.3,492.1 322.0,493.2C330.0,495.1 331.8,495.3 340.0,496.1C344.0,496.5 345.0,496.2 349.0,496.0C353.1,495.8 354.0,495.6 358.0,495.0C362.5,494.3 363.5,494.0 368.0,493.1C372.5,492.2 373.6,492.0 378.0,490.8C382.6,489.5 383.6,489.2 388.0,487.5C392.2,485.9 393.0,485.4 397.0,483.3C401.2,481.1 402.1,480.7 406.0,478.0C408.5,476.3 408.7,475.4 411.0,473.5C414.4,470.7 415.5,470.4 418.8,467.4C423.5,463.0 424.1,461.6 428.6,457.0C433.1,452.4 434.1,451.5 438.7,447.0C443.3,442.5 444.8,441.9 449.0,437.0C453.6,431.5 454.3,430.1 458.0,424.0C461.1,418.8 461.3,417.4 464.0,412.0C465.8,408.4 466.0,407.5 468.0,404.0C469.7,401.0 469.6,399.9 472.1,397.6C474.3,395.5 475.2,395.3 478.1,394.6C483.4,393.3 484.8,394.4 490.2,393.2C495.7,392.0 497.1,391.9 502.2,389.4C505.4,387.8 507.3,387.6 508.2,384.2C508.9,381.6 506.5,381.3 504.8,379.2C502.2,375.9 501.3,375.4 498.6,372.1C496.1,369.0 495.7,368.2 493.2,365.1C490.1,361.4 489.5,360.5 486.1,357.1C482.3,353.3 481.4,352.4 477.1,349.1C471.4,344.8 470.1,343.9 464.0,340.3C459.7,337.8 458.7,337.2 454.0,335.5C448.8,333.6 447.5,333.6 442.0,332.5C434.8,331.1 433.2,330.7 426.0,330.0C418.8,329.3 417.2,329.1 410.0,329.2C402.8,329.3 401.1,329.3 394.0,330.3C387.6,331.2 386.2,331.6 380.0,333.5C373.5,335.5 372.5,337.0 366.0,339.0C359.8,340.9 358.1,340.0 352.0,342.0C349.7,342.8 349.3,346.6 347.5,345.0C342.0,340.0 339.4,335.9 335.5,327.0C331.5,317.7 331.3,315.1 330.2,305.0C329.3,296.9 330.3,295.1 331.0,287.0C331.7,278.9 331.8,277.0 333.5,269.0C335.2,260.8 335.6,258.9 338.5,251.0C341.2,243.5 342.2,242.0 346.0,235.0C350.5,226.8 351.8,225.1 357.0,217.4C361.9,210.2 362.8,208.4 368.5,201.8C374.3,195.1 375.8,193.7 382.5,188.0C389.3,182.2 391.2,181.4 398.5,176.3C404.9,171.9 406.6,171.4 413.0,167.0C416.3,164.7 420.0,161.5 420.0,161.5Z" fill="#08f808"/>
<path d="M380.0,185.5C380.0,185.5 370.1,189.6 363.5,195.0C356.7,200.5 356.0,202.7 350.5,209.5C345.8,215.2 344.8,216.6 340.8,222.8C337.4,228.1 336.9,229.4 334.1,235.0C330.5,242.1 329.4,243.6 326.5,251.0C323.8,258.0 323.5,259.7 321.6,267.0C319.4,275.0 319.1,276.9 317.4,285.0C315.7,293.1 315.3,294.8 314.1,303.0C313.0,311.1 312.5,312.9 312.3,321.0C312.1,329.1 312.1,331.0 313.3,339.0C314.2,345.0 314.2,346.5 316.8,352.0C318.8,356.2 321.0,356.0 323.2,360.0C325.5,364.2 324.2,366.0 326.8,370.0C330.1,375.2 331.6,375.8 336.0,380.0C341.1,384.8 342.6,385.5 348.0,390.0C350.7,392.2 351.5,392.5 354.0,395.0C356.0,397.0 356.6,397.5 358.0,400.0C360.3,404.3 360.1,405.6 362.0,410.0C363.2,412.8 363.9,413.2 365.0,416.0C365.7,417.7 364.7,418.7 366.0,420.0C369.0,423.0 370.7,422.3 374.0,425.0C376.2,426.8 377.6,427.1 378.0,430.0C378.5,434.1 377.4,435.2 375.8,439.0C374.0,443.4 373.7,444.6 370.4,448.0C365.6,452.9 364.0,453.7 358.0,457.0C353.4,459.6 352.1,459.7 347.0,461.0C341.7,462.4 340.5,462.5 335.0,463.0C328.3,463.6 326.7,463.3 320.0,463.5C314.6,463.7 313.4,463.3 308.0,464.0C304.3,464.5 300.0,466.0 300.0,466.0C300.0,466.0 306.5,468.1 312.0,469.5C318.3,471.1 319.7,470.9 326.0,472.5C331.5,473.9 332.9,473.6 338.0,476.0C340.3,477.1 342.7,477.5 342.0,480.0C341.3,482.5 339.0,482.6 336.0,483.5C330.8,485.1 329.4,484.9 324.0,485.5C317.7,486.2 316.3,485.9 310.0,486.5C303.7,487.1 296.0,488.0 296.0,488.0C296.0,488.0 303.6,490.5 310.0,492.0C315.3,493.2 316.6,493.5 322.0,494.0C330.1,494.8 331.9,494.8 340.0,495.0C344.1,495.1 345.0,495.0 349.0,494.7C353.1,494.4 354.0,494.2 358.0,493.6C362.5,492.9 363.5,492.6 368.0,491.7C372.3,490.8 373.3,490.7 377.5,489.6C381.8,488.4 382.8,488.2 387.0,486.6C391.2,485.0 392.0,484.4 396.0,482.4C399.9,480.4 400.9,480.1 404.5,477.6C406.9,475.9 407.0,475.1 409.3,473.2C412.4,470.7 413.5,470.6 416.3,467.8C420.8,463.3 421.3,461.8 425.5,457.0C429.5,452.4 430.4,451.4 434.5,447.0C439.2,442.0 440.8,441.4 445.0,436.0C448.5,431.5 449.0,430.2 451.5,425.0C453.8,420.2 454.0,419.1 455.5,414.0C457.2,408.2 457.1,406.8 458.5,401.0C459.1,398.3 459.0,397.6 460.0,395.0C461.9,390.3 462.3,389.2 465.0,385.0C468.1,380.2 469.2,379.3 473.0,375.0C476.8,370.7 478.1,370.2 482.0,366.0C483.5,364.3 484.7,364.2 485.0,362.0C485.3,359.8 484.4,359.2 483.0,357.5C481.1,355.1 480.8,354.2 478.0,353.0C472.0,350.3 470.0,351.7 464.0,349.0C459.0,346.7 459.0,344.2 454.0,342.0C448.9,339.8 447.4,340.4 442.0,339.4C434.8,338.1 433.2,337.7 426.0,337.0C418.8,336.3 417.2,336.0 410.0,336.2C402.8,336.4 401.1,336.7 394.0,338.0C387.6,339.2 385.9,339.0 380.0,341.8C373.1,345.1 373.1,348.5 366.0,351.5C360.1,354.0 358.1,355.2 352.0,353.5C346.3,352.0 345.5,349.8 342.0,345.0C336.6,337.6 335.5,335.7 332.5,327.0C329.2,317.5 328.8,315.1 328.2,305.0C327.7,296.9 329.0,295.1 330.0,287.0C331.0,278.9 330.9,277.0 332.6,269.0C334.3,260.8 334.6,258.9 337.5,251.0C340.2,243.5 341.5,242.1 345.0,235.0C348.9,227.2 349.5,225.3 354.0,217.8C357.6,211.8 358.7,210.6 363.0,205.0C367.3,199.4 368.4,198.3 373.0,193.0C376.0,189.5 380.0,185.5 380.0,185.5Z" fill="#80ff00"/>
<path d="M360.0,203.0C360.0,203.0 354.4,206.6 350.8,210.5C346.1,215.6 345.5,217.2 341.6,223.0C338.2,228.2 337.5,229.5 334.6,235.0C330.9,242.1 329.8,243.6 326.8,251.0C324.0,258.0 323.8,259.7 321.9,267.0C319.7,275.0 319.4,276.9 317.7,285.0C316.0,293.1 315.6,294.8 314.5,303.0C313.4,311.1 313.0,312.9 312.8,321.0C312.6,329.1 312.6,331.0 313.8,339.0C314.7,345.0 314.8,346.5 317.5,352.0C319.6,356.2 321.9,355.9 324.2,360.0C326.6,364.2 325.0,366.1 327.8,370.0C331.6,375.3 333.4,375.7 338.4,380.0C343.9,384.7 345.3,385.6 351.0,390.0C354.1,392.4 355.1,392.4 358.0,395.0C360.1,396.9 360.5,397.5 362.0,400.0C364.6,404.3 364.5,405.6 367.0,410.0C368.6,412.8 369.3,413.2 371.0,416.0C372.0,417.7 371.7,418.5 373.0,420.0C375.3,422.6 376.6,422.4 379.0,425.0C380.8,427.0 381.8,427.4 382.0,430.0C382.3,434.1 381.5,435.1 380.0,439.0C378.3,443.3 378.0,444.4 375.0,448.0C371.1,452.7 369.9,453.4 365.0,457.0C361.3,459.7 360.1,459.8 356.0,462.0C352.9,463.7 352.4,464.5 349.0,465.5C344.2,467.0 343.0,466.9 338.0,467.5C332.2,468.2 325.0,468.3 325.0,468.3C325.0,468.3 331.1,469.5 336.0,471.0C340.2,472.3 341.2,472.3 345.0,474.5C347.2,475.8 348.9,476.0 349.0,478.5C349.2,481.1 347.6,481.6 345.5,483.0C342.1,485.3 340.9,485.2 337.0,486.5C333.0,487.8 332.1,488.1 328.0,488.8C323.5,489.6 318.0,489.8 318.0,489.8C318.0,489.8 324.5,491.7 330.0,492.6C334.5,493.4 335.5,493.4 340.0,493.6C344.0,493.7 345.0,493.6 349.0,493.3C353.1,493.0 354.0,492.8 358.0,492.2C362.5,491.5 363.5,491.2 368.0,490.3C372.1,489.4 373.0,489.3 377.0,488.2C381.3,487.0 382.3,486.9 386.5,485.3C390.7,483.7 391.5,483.1 395.5,481.0C399.2,479.1 400.1,478.8 403.5,476.4C405.8,474.8 405.9,474.0 408.0,472.2C410.9,469.8 411.9,469.6 414.6,467.0C419.1,462.7 419.8,461.5 424.0,457.0C428.1,452.5 428.9,451.4 433.0,447.0C437.7,442.0 439.4,441.5 443.5,436.0C446.9,431.5 447.2,430.2 449.5,425.0C451.6,420.2 452.0,419.1 453.3,414.0C454.7,408.2 454.5,406.9 455.5,401.0C456.0,398.3 455.7,397.6 456.5,395.0C457.9,390.4 458.2,389.3 460.5,385.0C463.0,380.2 463.5,379.1 467.0,375.0C471.0,370.4 472.8,370.2 477.0,366.0C478.4,364.6 479.5,364.4 479.5,362.5C479.5,360.2 478.5,359.8 477.0,358.0C475.1,355.7 474.6,355.1 472.0,353.5C468.7,351.4 467.4,352.0 464.0,350.0C459.3,347.2 459.0,345.2 454.0,343.0C448.9,340.8 447.4,341.4 442.0,340.4C434.8,339.1 433.2,338.7 426.0,338.0C418.8,337.3 417.2,337.1 410.0,337.4C402.8,337.7 401.1,337.9 394.0,339.2C387.6,340.4 385.9,340.1 380.0,343.0C373.1,346.4 373.1,349.9 366.0,352.8C360.1,355.2 358.0,356.3 352.0,354.4C345.9,352.5 345.1,350.2 341.3,345.0C335.9,337.6 334.9,335.6 331.8,327.0C328.3,317.5 327.5,315.1 326.7,305.0C326.0,296.9 327.4,295.1 328.5,287.0C329.7,278.8 330.0,277.0 331.8,269.0C333.6,260.8 333.8,258.9 336.5,251.0C339.1,243.6 340.2,242.1 343.5,235.0C346.7,228.2 347.2,226.5 351.0,220.0C353.5,215.7 355.2,215.4 357.5,211.0C359.3,207.7 360.0,203.0 360.0,203.0Z" fill="#c0ff00"/>
<path d="M348.0,214.5C348.0,214.5 343.4,219.7 340.5,224.5C337.8,229.0 337.8,230.3 335.5,235.0C332.0,242.2 330.5,243.6 327.5,251.0C324.6,258.0 324.4,259.7 322.4,267.0C320.2,275.0 319.9,276.9 318.2,285.0C316.5,293.1 316.1,294.8 315.0,303.0C313.9,311.1 313.6,312.9 313.5,321.0C313.4,329.1 313.3,331.0 314.5,339.0C315.4,345.0 315.5,346.6 318.2,352.0C320.3,356.2 322.5,356.0 325.0,360.0C327.6,364.2 326.4,366.1 329.4,370.0C333.5,375.3 335.2,375.8 340.4,380.0C346.5,384.8 348.1,385.6 354.5,390.0C358.0,392.4 359.2,392.3 362.5,395.0C364.9,396.9 365.4,397.4 367.0,400.0C369.5,404.2 369.1,405.7 371.5,410.0C373.2,412.9 374.0,413.3 376.0,416.0C377.4,417.8 377.6,418.3 379.0,420.0C380.9,422.3 381.8,422.5 383.5,425.0C384.9,427.0 386.0,427.6 385.7,430.0C385.2,434.4 383.6,434.9 382.0,439.0C380.4,443.0 381.1,444.5 378.5,448.0C374.9,452.8 373.2,453.1 368.6,457.0C365.8,459.4 365.0,459.7 362.0,461.8C358.9,463.9 358.3,464.6 355.0,466.3C350.8,468.4 345.4,470.2 345.4,470.2C345.4,470.2 347.2,472.2 349.0,473.3C351.8,475.0 355.2,474.1 355.5,476.3C355.8,478.5 352.5,478.2 350.0,479.8C347.3,481.6 346.8,482.2 344.0,483.8C340.5,485.7 339.7,486.0 336.0,487.5C332.5,489.0 328.0,490.4 328.0,490.4C328.0,490.4 334.5,491.9 340.0,492.3C344.0,492.6 345.0,492.2 349.0,491.9C353.1,491.6 354.0,491.4 358.0,490.8C362.8,490.0 363.9,489.8 368.6,488.8C372.4,488.0 373.2,487.7 377.0,486.7C381.3,485.5 382.3,485.5 386.5,483.9C390.5,482.4 391.2,481.7 395.0,479.7C398.5,477.9 399.4,477.7 402.7,475.4C404.9,473.9 405.0,473.1 407.0,471.4C409.8,469.0 410.7,468.7 413.4,466.2C417.7,462.2 418.7,461.3 422.6,457.0C426.5,452.7 426.9,451.4 430.7,447.0C435.0,441.9 436.8,441.4 440.6,436.0C443.8,431.5 444.0,430.1 446.2,425.0C448.3,420.2 448.7,419.1 450.0,414.0C451.5,408.2 451.4,406.9 452.3,401.0C452.7,398.3 452.4,397.6 453.0,395.0C454.1,390.4 454.3,389.4 456.0,385.0C457.9,380.3 457.9,379.0 461.0,375.0C464.6,370.3 466.3,370.1 470.5,366.0C472.1,364.5 473.7,364.7 474.0,362.5C474.3,360.2 472.9,359.9 471.5,358.0C470.2,356.2 469.6,356.0 468.0,354.5C466.3,352.9 465.9,352.4 464.0,351.0C459.6,347.7 459.0,346.2 454.0,344.0C448.9,341.8 447.4,342.4 442.0,341.4C434.8,340.1 433.3,339.7 426.0,339.0C418.8,338.3 417.2,338.2 410.0,338.5C402.8,338.8 401.1,338.9 394.0,340.3C387.6,341.5 385.9,341.4 380.0,344.3C373.1,347.7 373.1,351.2 366.0,354.0C360.1,356.3 358.0,357.5 352.0,355.4C345.4,353.1 344.6,350.6 340.5,345.0C335.1,337.6 334.2,335.6 331.0,327.0C327.4,317.4 326.4,315.2 325.4,305.0C324.6,296.9 326.2,295.1 327.2,287.0C328.2,278.9 328.4,277.0 329.9,269.0C331.4,260.8 331.7,259.0 334.0,251.0C336.1,243.7 336.6,242.1 339.5,235.0C341.6,229.9 342.9,229.1 345.0,224.0C346.7,219.9 348.0,214.5 348.0,214.5Z" fill="#ffff00"/>
<path d="M336.5,233.5C336.5,233.5 331.6,242.9 328.3,251.0C325.5,258.0 325.0,259.7 323.0,267.0C320.8,275.0 320.5,276.9 318.8,285.0C317.1,293.1 316.5,294.8 315.5,303.0C314.5,311.1 314.4,312.9 314.3,321.0C314.2,329.1 314.0,331.0 315.2,339.0C316.1,345.0 316.3,346.5 319.0,352.0C321.1,356.2 323.1,356.1 325.6,360.0C328.3,364.2 327.3,366.1 330.5,370.0C334.8,375.3 336.5,375.9 342.0,380.0C348.7,384.9 350.5,385.6 357.5,390.0C361.3,392.4 362.4,392.4 366.0,395.0C368.7,396.9 369.8,397.1 371.5,400.0C374.0,404.1 372.8,405.8 375.0,410.0C376.6,413.1 377.7,413.3 380.0,416.0C381.5,417.8 381.9,418.2 383.5,420.0C385.5,422.3 386.4,422.4 388.0,425.0C389.2,427.0 389.8,427.7 389.5,430.0C389.0,434.2 387.9,435.0 386.5,439.0C385.0,443.1 385.3,444.3 383.0,448.0C380.1,452.6 378.9,453.2 375.0,457.0C372.1,459.8 371.2,460.1 368.0,462.5C365.1,464.6 364.3,464.9 361.5,467.0C360.2,468.0 358.8,469.4 358.8,469.4C358.8,469.4 363.2,470.0 366.9,469.9C370.9,469.8 371.8,469.3 375.8,468.9C379.5,468.6 380.3,468.5 384.0,468.4C386.9,468.3 390.5,468.6 390.5,468.6C390.5,468.6 388.2,471.1 386.0,472.8C383.5,474.7 382.8,475.1 380.0,476.6C376.1,478.6 375.2,479.1 371.0,480.6C367.0,482.1 366.1,482.2 362.0,483.3C358.0,484.4 357.0,484.5 353.0,485.5C349.4,486.4 348.5,486.5 345.0,487.6C342.7,488.3 340.0,489.6 340.0,489.6C340.0,489.6 344.9,491.0 349.0,491.0C353.1,491.0 354.0,490.4 358.0,489.8C362.1,489.2 363.0,489.2 367.0,488.5C371.1,487.8 372.0,487.7 376.0,486.7C380.1,485.7 381.0,485.5 385.0,484.0C389.2,482.5 390.0,482.0 394.0,480.0C397.6,478.2 398.5,477.9 401.8,475.6C404.0,474.1 404.0,473.2 406.0,471.5C408.8,469.1 409.9,469.0 412.6,466.5C417.0,462.5 418.0,461.6 421.8,457.0C425.3,452.8 425.4,451.4 428.7,447.0C432.5,441.9 434.2,441.4 437.6,436.0C440.5,431.4 440.5,430.0 442.5,425.0C444.5,420.1 445.1,419.1 446.5,414.0C448.1,408.2 448.2,406.9 449.3,401.0C449.8,398.3 449.6,397.7 450.0,395.0C450.7,390.5 450.3,389.3 451.8,385.0C453.5,380.2 454.2,379.2 457.0,375.0C460.1,370.4 461.2,369.6 465.0,365.5C467.1,363.3 469.2,363.9 470.0,361.0C470.6,358.8 469.0,358.3 467.5,356.5C465.3,353.9 464.6,353.6 462.0,351.5C458.5,348.6 458.2,347.1 454.0,345.3C448.9,343.1 447.4,343.9 442.0,342.9C434.8,341.6 433.3,340.9 426.0,340.2C418.8,339.5 417.2,339.6 410.0,339.9C402.8,340.2 401.1,340.1 394.0,341.5C387.5,342.8 385.9,342.9 380.0,345.8C373.1,349.2 373.2,352.7 366.0,355.5C360.1,357.8 357.9,358.9 352.0,356.6C344.9,353.8 344.0,351.2 339.5,345.0C334.1,337.7 333.5,335.5 330.3,327.0C326.7,317.4 325.4,315.2 324.4,305.0C323.6,296.9 325.2,295.1 326.3,287.0C327.4,278.9 327.8,277.1 329.3,269.0C330.8,260.9 331.2,259.1 332.8,251.0C334.4,243.1 336.5,233.5 336.5,233.5Z" fill="#ff8000"/>
<path d="M330.6,248.5C330.6,248.5 329.6,249.8 329.2,251.0C326.9,257.2 325.9,259.7 323.8,267.0C321.5,275.0 321.1,276.8 319.4,285.0C317.7,293.1 317.1,294.8 316.1,303.0C315.1,311.1 315.1,312.9 315.0,321.0C314.9,329.1 314.5,331.0 315.8,339.0C316.8,345.1 317.3,346.5 320.0,352.0C322.0,356.1 323.8,356.1 326.3,360.0C329.0,364.3 328.1,366.2 331.4,370.0C336.0,375.3 337.6,376.0 343.4,380.0C350.7,385.0 352.8,385.4 360.5,390.0C364.1,392.2 365.0,392.5 368.5,395.0C371.4,397.0 372.8,396.9 374.5,400.0C376.7,404.0 374.6,405.8 376.5,410.0C378.1,413.3 379.5,413.3 382.0,416.0C383.8,417.8 384.3,418.1 386.0,420.0C387.9,422.2 388.6,422.5 390.0,425.0C391.1,427.1 391.7,427.7 391.5,430.0C391.1,434.2 390.3,435.0 388.8,439.0C387.3,443.2 386.8,444.1 384.8,448.0C382.8,451.9 381.9,452.6 379.8,456.5C378.9,458.2 378.0,460.4 378.0,460.4C378.0,460.4 380.6,462.2 383.0,462.3C386.2,462.5 387.0,461.9 390.1,461.0C393.4,460.0 394.0,459.4 397.3,458.2C399.2,457.5 400.1,455.7 401.5,457.0C403.2,458.6 402.2,460.3 402.5,463.0C402.8,465.9 404.4,467.1 402.7,469.4C399.9,473.2 397.9,472.6 393.7,474.8C389.8,476.8 388.9,477.2 384.8,478.8C380.8,480.4 379.9,480.7 375.8,481.9C371.8,483.1 370.9,483.3 366.9,484.2C362.9,485.1 362.0,485.2 357.9,486.0C353.9,486.8 353.0,486.8 349.0,487.7C346.9,488.2 344.5,489.1 344.5,489.1C344.5,489.1 347.0,489.9 349.0,489.8C353.0,489.6 353.9,489.2 357.9,488.6C362.0,488.0 362.9,488.0 366.9,487.3C370.9,486.6 371.8,486.5 375.8,485.5C379.9,484.5 380.8,484.3 384.8,482.8C388.9,481.3 389.8,480.8 393.7,478.8C397.0,477.2 397.9,476.9 400.9,474.8C403.0,473.3 403.0,472.4 405.0,470.8C407.9,468.4 408.9,468.3 411.8,465.8C416.1,462.1 417.4,461.5 421.0,457.0C424.2,452.9 423.9,451.3 426.7,447.0C430.0,441.9 431.6,441.3 434.6,436.0C437.3,431.3 437.3,430.0 439.3,425.0C441.3,420.1 442.0,419.1 443.5,414.0C445.3,408.2 445.2,406.9 446.6,401.0C447.2,398.3 447.4,397.7 448.0,395.0C449.0,390.5 448.9,389.5 450.0,385.0C451.1,380.4 450.9,379.2 453.0,375.0C455.4,370.3 456.7,369.6 460.0,365.5C462.3,362.6 464.5,363.0 465.5,359.5C466.1,357.3 464.5,356.8 463.0,355.0C461.1,352.7 460.3,352.5 458.0,350.5C456.2,348.9 456.2,347.8 454.0,347.0C448.8,345.1 447.4,345.5 442.0,344.5C434.8,343.1 433.3,342.4 426.0,341.7C418.8,341.0 417.2,341.0 410.0,341.2C402.8,341.4 401.1,341.3 394.0,342.8C387.5,344.2 385.9,344.5 380.0,347.5C373.2,350.9 373.1,354.3 366.0,357.0C360.1,359.2 357.8,360.5 352.0,358.0C344.3,354.6 343.5,351.8 338.5,345.0C333.2,337.7 332.7,335.5 329.5,327.0C325.9,317.4 324.6,315.2 323.6,305.0C322.8,296.9 324.4,295.1 325.5,287.0C326.6,278.9 327.5,277.1 328.6,269.0C329.8,259.8 330.6,248.5 330.6,248.5Z" fill="#ff0040"/>
<path d="M397.5,472.3C397.5,472.3 399.8,472.3 401.5,471.6C404.4,470.5 405.0,470.1 407.5,468.3C411.6,465.3 412.7,464.7 416.2,461.0C420.5,456.4 421.4,455.3 424.8,450.0C428.3,444.7 428.8,443.3 431.4,437.5C433.9,432.1 434.0,430.7 436.1,425.1C438.0,420.1 438.6,419.0 440.1,413.9C441.8,408.2 442.1,406.9 443.3,401.0C444.3,396.1 444.3,395.0 444.9,390.0C445.4,385.5 445.5,384.5 445.7,380.0C445.8,377.1 444.9,376.4 445.5,373.5C446.2,369.9 446.4,368.9 448.6,366.0C450.8,362.9 453.2,363.7 455.0,360.5C455.9,358.9 454.9,358.1 454.0,356.5C453.0,354.7 452.6,354.3 451.0,353.0C449.0,351.4 448.3,351.4 446.0,350.2C443.5,348.9 443.0,348.4 440.3,347.6C434.1,345.8 432.6,345.4 426.2,344.6C419.0,343.7 417.4,343.7 410.2,343.8C403.0,343.9 401.2,343.6 394.2,345.2C388.8,346.4 387.6,347.2 382.8,350.0C378.9,352.3 378.7,353.8 375.0,356.5C372.0,358.7 371.4,359.4 368.0,360.8C364.9,362.0 364.0,362.7 360.7,362.2C356.7,361.6 356.0,360.5 352.5,358.6C349.6,357.0 349.0,356.6 346.5,354.5C343.4,352.0 342.7,351.4 340.0,348.5C336.9,345.1 336.2,344.4 333.8,340.5C331.3,336.4 330.7,335.5 329.0,331.0C326.9,325.3 326.8,323.9 325.5,318.0C324.2,312.2 323.9,310.9 323.2,305.0C322.6,300.1 323.0,298.9 322.6,294.0C322.3,290.4 321.5,286.0 321.5,286.0C321.5,286.0 319.6,290.3 318.8,294.0C317.8,298.9 318.1,300.0 317.6,305.0C316.9,312.6 316.3,314.3 316.2,322.0C316.1,329.8 316.1,331.6 317.2,339.3C318.1,345.2 318.4,346.5 320.6,352.0C322.2,356.0 323.3,356.6 325.6,360.3C328.2,364.5 328.6,365.5 331.6,369.5C334.4,373.3 334.8,374.5 338.4,377.5C341.6,380.2 342.8,380.2 346.6,382.0C351.2,384.2 352.3,384.4 357.0,386.5C361.5,388.5 362.7,388.6 367.0,391.0C370.1,392.7 370.9,393.1 373.5,395.5C375.6,397.4 376.3,397.9 377.5,400.5C379.0,403.6 377.9,404.9 379.5,408.0C381.1,411.1 381.6,412.0 384.5,414.0C387.9,416.4 389.7,415.0 393.0,417.5C395.8,419.7 396.7,420.5 397.5,424.0C398.4,427.5 397.2,428.4 396.5,432.0C395.9,435.2 395.2,435.8 394.6,439.0C393.9,443.0 393.2,444.0 393.7,448.0C394.0,450.6 394.8,451.1 396.5,453.0C398.1,454.8 399.1,454.4 401.0,456.0C402.1,456.9 402.9,457.1 403.0,458.5C403.2,460.6 402.3,461.0 401.5,463.0C400.7,464.9 400.3,465.2 399.5,467.0C398.5,469.3 397.5,472.3 397.5,472.3Z" fill="#ff00ff"/>
<path d="M319.6,306.5C319.6,306.5 320.8,311.2 321.8,315.0C322.9,319.5 322.9,320.6 324.3,325.0C325.5,328.9 325.8,329.8 327.5,333.5C329.2,337.2 329.6,338.1 332.0,341.5C334.8,345.6 335.6,346.4 339.0,350.0C341.9,353.1 342.6,353.8 346.0,356.5C348.7,358.7 349.4,359.2 352.5,360.8C356.0,362.7 356.7,363.8 360.7,364.3C364.4,364.8 365.3,364.3 368.8,363.0C372.7,361.5 373.3,360.6 376.8,358.3C380.6,355.8 380.9,354.4 384.8,352.2C388.8,349.9 389.8,349.4 394.2,348.4C401.3,346.8 403.0,346.8 410.2,346.3C417.4,345.8 419.0,345.7 426.2,346.3C432.6,346.8 434.2,346.9 440.3,348.8C444.5,350.1 445.5,350.7 449.0,353.5C450.9,355.0 452.5,355.6 452.0,358.0C451.2,362.0 448.6,361.8 446.5,365.4C444.5,368.8 443.6,369.5 443.0,373.4C442.2,378.6 443.5,379.8 443.4,385.0C443.3,390.4 443.2,391.6 442.4,397.0C441.4,403.4 441.1,404.8 439.5,411.1C437.9,417.5 437.6,418.9 435.3,425.1C433.1,431.1 432.6,432.5 429.6,438.2C426.7,443.7 426.0,444.9 422.4,450.0C419.0,454.8 418.1,455.8 414.0,460.0C410.7,463.4 409.9,464.2 406.0,467.0C403.8,468.6 400.5,469.8 400.5,469.8C400.5,469.8 402.2,466.6 403.6,464.0C405.8,460.0 406.3,459.1 408.4,455.0C410.7,450.5 411.4,449.6 413.3,445.0C415.3,440.1 417.0,433.8 417.0,433.8C417.0,433.8 413.9,436.7 411.0,438.6C408.7,440.1 408.2,440.7 405.5,441.3C403.9,441.6 403.2,441.6 402.0,440.6C400.3,439.3 400.1,438.6 399.6,436.5C399.0,433.6 399.7,432.9 399.6,430.0C399.5,427.3 399.7,426.6 399.0,424.0C398.3,421.6 398.3,420.7 396.5,419.0C394.3,417.0 393.2,417.5 390.6,416.1C387.6,414.4 386.5,414.6 384.2,412.1C382.0,409.7 382.1,408.7 381.0,405.7C380.0,402.9 380.9,401.9 379.4,399.3C377.8,396.6 377.0,396.2 374.5,394.4C371.4,392.1 370.5,392.0 367.0,390.3C362.1,388.0 360.9,387.7 356.0,385.5C351.2,383.3 350.0,383.2 345.5,380.5C342.3,378.6 341.7,378.0 339.0,375.5C336.2,372.8 335.8,372.0 333.4,369.0C330.7,365.5 329.9,364.8 327.6,361.0C324.7,356.2 324.0,355.2 322.0,350.0C320.2,345.4 319.8,344.2 319.0,339.3C318.0,332.9 318.2,331.4 318.0,325.0C317.9,320.0 318.0,318.9 318.4,314.0C318.7,310.6 319.6,306.5 319.6,306.5Z" fill="#ffffff"/>
</g>
<line x1="297.5" y1="448" x2="416" y2="256.5" stroke="#000" stroke-width="2.3"/>
</g>
<g stroke="#000" fill="none">
<line x1="111.3" y1="91.2" x2="111.3" y2="663.7" stroke-width="3"/>
<line x1="109.8" y1="662.2" x2="734.7" y2="662.2" stroke-width="3.2"/>
<line x1="112" y1="662.4" x2="120.3" y2="662.4" stroke-width="1.5"/>
<line x1="112" y1="633.9" x2="120.3" y2="633.9" stroke-width="1.5"/>
<line x1="112" y1="605.4" x2="125.5" y2="605.4" stroke-width="3"/>
<line x1="112" y1="576.9" x2="120.3" y2="576.9" stroke-width="1.5"/>
<line x1="112" y1="548.5" x2="120.3" y2="548.5" stroke-width="1.5"/>
<line x1="112" y1="520.0" x2="120.3" y2="520.0" stroke-width="1.5"/>
<line x1="112" y1="491.5" x2="125.5" y2="491.5" stroke-width="3"/>
<line x1="112" y1="463.0" x2="120.3" y2="463.0" stroke-width="1.5"/>
<line x1="112" y1="434.6" x2="120.3" y2="434.6" stroke-width="1.5"/>
<line x1="112" y1="406.1" x2="120.3" y2="406.1" stroke-width="1.5"/>
<line x1="112" y1="377.6" x2="125.5" y2="377.6" stroke-width="3"/>
<line x1="112" y1="349.1" x2="120.3" y2="349.1" stroke-width="1.5"/>
<line x1="112" y1="320.7" x2="120.3" y2="320.7" stroke-width="1.5"/>
<line x1="112" y1="292.2" x2="120.3" y2="292.2" stroke-width="1.5"/>
<line x1="112" y1="263.7" x2="125.5" y2="263.7" stroke-width="3"/>
<line x1="112" y1="235.2" x2="120.3" y2="235.2" stroke-width="1.5"/>
<line x1="112" y1="206.8" x2="120.3" y2="206.8" stroke-width="1.5"/>
<line x1="112" y1="178.3" x2="120.3" y2="178.3" stroke-width="1.5"/>
<line x1="112" y1="149.8" x2="125.5" y2="149.8" stroke-width="3"/>
<line x1="112" y1="121.3" x2="120.3" y2="121.3" stroke-width="1.5"/>
<line x1="112" y1="92.9" x2="120.3" y2="92.9" stroke-width="1.5"/>
<line x1="140.5" y1="654" x2="140.5" y2="662" stroke-width="1.5"/>
<line x1="168.9" y1="648.3" x2="168.9" y2="662" stroke-width="3"/>
<line x1="197.4" y1="654" x2="197.4" y2="662" stroke-width="1.5"/>
<line x1="225.8" y1="654" x2="225.8" y2="662" stroke-width="1.5"/>
<line x1="254.2" y1="654" x2="254.2" y2="662" stroke-width="1.5"/>
<line x1="282.6" y1="648.3" x2="282.6" y2="662" stroke-width="3"/>
<line x1="311.0" y1="654" x2="311.0" y2="662" stroke-width="1.5"/>
<line x1="339.5" y1="654" x2="339.5" y2="662" stroke-width="1.5"/>
<line x1="367.9" y1="654" x2="367.9" y2="662" stroke-width="1.5"/>
<line x1="396.3" y1="648.3" x2="396.3" y2="662" stroke-width="3"/>
<line x1="424.7" y1="654" x2="424.7" y2="662" stroke-width="1.5"/>
<line x1="453.1" y1="654" x2="453.1" y2="662" stroke-width="1.5"/>
<line x1="481.6" y1="654" x2="481.6" y2="662" stroke-width="1.5"/>
<line x1="510.0" y1="648.3" x2="510.0" y2="662" stroke-width="3"/>
<line x1="538.4" y1="654" x2="538.4" y2="662" stroke-width="1.5"/>
<line x1="566.8" y1="654" x2="566.8" y2="662" stroke-width="1.5"/>
<line x1="595.2" y1="654" x2="595.2" y2="662" stroke-width="1.5"/>
<line x1="623.7" y1="648.3" x2="623.7" y2="662" stroke-width="3"/>
<line x1="652.1" y1="654" x2="652.1" y2="662" stroke-width="1.5"/>
<line x1="680.5" y1="654" x2="680.5" y2="662" stroke-width="1.5"/>
<line x1="708.9" y1="654" x2="708.9" y2="662" stroke-width="1.5"/>
</g>
<text class="h" x="103.3" y="157.3" font-size="22" text-anchor="end">400</text>
<text class="h" x="103.3" y="271.2" font-size="22" text-anchor="end">200</text>
<text class="h" x="103.3" y="385.1" font-size="22" text-anchor="end">0</text>
<text class="h" x="103.3" y="499.0" font-size="22" text-anchor="end">-200</text>
<text class="h" x="103.3" y="612.9" font-size="22" text-anchor="end">-400</text>
<text class="h" x="167.9" y="685.3" font-size="22" text-anchor="middle">-400</text>
<text class="h" x="281.6" y="685.3" font-size="22" text-anchor="middle">-200</text>
<text class="h" x="396.3" y="685.3" font-size="22" text-anchor="middle">0</text>
<text class="h" x="510.0" y="685.3" font-size="22" text-anchor="middle">200</text>
<text class="h" x="623.7" y="685.3" font-size="22" text-anchor="middle">400</text>
<text class="h" x="423.5" y="709.3" font-size="26.2" font-weight="bold" text-anchor="middle">X [R]</text>
<text class="h" transform="translate(61.5,377.2) rotate(-90)" font-size="26.2" font-weight="bold" text-anchor="middle">Y [R]</text>
<rect x="710.4" y="150.9" width="83.9" height="227.8" fill="#fff" stroke="#1a1a1a" stroke-width="1.2"/>
<text class="h" x="717.6" y="172.2" font-size="16.8" textLength="68.6" lengthAdjust="spacingAndGlyphs">Ne cm-3</text>
<rect x="717.4" y="358.20" width="28.2" height="5.00" fill="#0000e0"/>
<rect x="717.4" y="350.84" width="28.2" height="7.66" fill="#0040ff"/>
<rect x="717.4" y="343.49" width="28.2" height="7.66" fill="#0080ff"/>
<rect x="717.4" y="336.13" width="28.2" height="7.66" fill="#00b4ff"/>
<rect x="717.4" y="328.77" width="28.2" height="7.66" fill="#00ffff"/>
<rect x="717.4" y="321.41" width="28.2" height="7.66" fill="#00ffc8"/>
<rect x="717.4" y="314.06" width="28.2" height="7.66" fill="#00ff90"/>
<rect x="717.4" y="306.70" width="28.2" height="7.66" fill="#00ff40"/>
<rect x="717.4" y="299.34" width="28.2" height="7.66" fill="#00f000"/>
<rect x="717.4" y="291.99" width="28.2" height="7.66" fill="#40ff00"/>
<rect x="717.4" y="284.63" width="28.2" height="7.66" fill="#80ff00"/>
<rect x="717.4" y="277.27" width="28.2" height="7.66" fill="#c0ff00"/>
<rect x="717.4" y="269.91" width="28.2" height="7.66" fill="#ffff00"/>
<rect x="717.4" y="262.56" width="28.2" height="7.66" fill="#ffc000"/>
<rect x="717.4" y="255.20" width="28.2" height="7.66" fill="#ff8000"/>
<rect x="717.4" y="247.84" width="28.2" height="7.66" fill="#ff4000"/>
<rect x="717.4" y="240.49" width="28.2" height="7.66" fill="#ff0000"/>
<rect x="717.4" y="233.13" width="28.2" height="7.66" fill="#ff0040"/>
<rect x="717.4" y="225.77" width="28.2" height="7.66" fill="#ff0080"/>
<rect x="717.4" y="218.41" width="28.2" height="7.66" fill="#ff00c0"/>
<rect x="717.4" y="211.06" width="28.2" height="7.66" fill="#ff00ff"/>
<rect x="717.4" y="203.70" width="28.2" height="7.66" fill="#ff40ff"/>
<rect x="717.4" y="195.20" width="28.2" height="8.80" fill="#ff80ff"/>
<rect x="717.4" y="186.20" width="28.2" height="9.30" fill="#ffc4ff"/>
<rect x="717.4" y="184.60" width="28.2" height="1.90" fill="#ffe8ff"/>
<rect x="717.4" y="184.6" width="28.2" height="178.3" fill="none" stroke="#000" stroke-width="1"/>
<text class="h" x="758.6" y="367.4" font-size="16.8" textLength="10.6" lengthAdjust="spacingAndGlyphs">0</text>
<line x1="717.4" y1="336.1" x2="745.6" y2="336.1" stroke="#000" stroke-width="1"/>
<text class="h" x="758.6" y="345.2" font-size="16.8" textLength="10.6" lengthAdjust="spacingAndGlyphs">7</text>
<line x1="717.4" y1="314.1" x2="745.6" y2="314.1" stroke="#000" stroke-width="1"/>
<text class="h" x="758.6" y="323.1" font-size="16.8" textLength="21.2" lengthAdjust="spacingAndGlyphs">13</text>
<line x1="717.4" y1="292.0" x2="745.6" y2="292.0" stroke="#000" stroke-width="1"/>
<text class="h" x="758.6" y="300.9" font-size="16.8" textLength="21.2" lengthAdjust="spacingAndGlyphs">20</text>
<line x1="717.4" y1="269.9" x2="745.6" y2="269.9" stroke="#000" stroke-width="1"/>
<text class="h" x="758.6" y="278.7" font-size="16.8" textLength="21.2" lengthAdjust="spacingAndGlyphs">26</text>
<line x1="717.4" y1="247.8" x2="745.6" y2="247.8" stroke="#000" stroke-width="1"/>
<text class="h" x="758.6" y="256.5" font-size="16.8" textLength="21.2" lengthAdjust="spacingAndGlyphs">33</text>
<line x1="717.4" y1="225.8" x2="745.6" y2="225.8" stroke="#000" stroke-width="1"/>
<text class="h" x="758.6" y="234.3" font-size="16.8" textLength="21.2" lengthAdjust="spacingAndGlyphs">39</text>
<line x1="717.4" y1="203.7" x2="745.6" y2="203.7" stroke="#000" stroke-width="1"/>
<text class="h" x="758.6" y="212.2" font-size="16.8" textLength="21.2" lengthAdjust="spacingAndGlyphs">46</text>
</g>
<g id="right">
<defs><clipPath id="ac"><rect x="1050.7" y="85.3" width="700" height="576.5"/></clipPath></defs>
<g stroke="#a9a9a9" stroke-width="1.6">
<line x1="1131.5" y1="85.3" x2="1131.5" y2="661.8"/>
<line x1="1239.2" y1="85.3" x2="1239.2" y2="661.8"/>
<line x1="1346.9" y1="85.3" x2="1346.9" y2="661.8"/>
<line x1="1454.5" y1="85.3" x2="1454.5" y2="661.8"/>
<line x1="1562.2" y1="85.3" x2="1562.2" y2="661.8"/>
<line x1="1669.9" y1="85.3" x2="1669.9" y2="661.8"/>
<line x1="1050.7" y1="610.4" x2="1750.7" y2="610.4"/>
<line x1="1050.7" y1="491.3" x2="1750.7" y2="491.3"/>
<line x1="1050.7" y1="254.0" x2="1750.7" y2="254.0"/>
<line x1="1050.7" y1="135.3" x2="1750.7" y2="135.3"/>
</g>
<line x1="1050.7" y1="372.1" x2="1750.7" y2="372.1" stroke="#1c1c1c" stroke-width="2.3"/>
<g clip-path="url(#ac)" fill="none">
<path d="M1046.0,205.2C1048.4,206.6 1050.0,207.6 1053.3,209.5C1061.1,214.1 1062.5,215.9 1070.8,219.7C1079.6,223.8 1082.0,223.7 1091.2,226.9C1100.5,230.1 1102.7,230.3 1111.8,234.1C1119.4,237.3 1121.1,238.1 1128.2,242.3C1135.8,246.9 1137.1,248.5 1144.5,253.6C1152.8,259.1 1154.6,260.5 1163.0,265.9C1172.1,271.6 1174.1,273.0 1183.5,278.1C1192.5,283.1 1194.6,284.2 1204.0,288.4C1213.0,292.4 1215.2,292.8 1224.5,296.2C1231.4,298.8 1232.9,299.4 1239.9,301.7C1251.4,305.5 1254.0,306.3 1265.5,309.9C1274.7,312.8 1276.7,313.8 1286.0,316.1C1295.1,318.4 1297.2,318.7 1306.5,320.2C1313.8,321.4 1315.5,321.9 1322.9,322.2C1327.5,322.4 1328.6,322.2 1333.2,321.4C1339.7,320.3 1341.3,320.5 1347.5,318.1C1353.5,315.8 1355.0,315.2 1359.8,311.0C1365.3,306.2 1366.2,304.6 1370.0,298.4C1372.8,293.8 1372.5,292.3 1374.2,287.2C1376.0,281.7 1376.2,280.5 1377.6,274.9C1379.0,269.1 1379.2,267.8 1380.5,262.0C1381.7,256.6 1382.1,255.4 1383.1,250.0C1384.4,242.8 1384.5,241.2 1385.6,234.0C1386.7,226.6 1386.8,224.9 1387.9,217.5C1389.0,210.1 1389.2,208.4 1390.3,201.0C1391.0,196.4 1391.2,195.3 1391.9,190.7C1393.2,182.1 1393.5,180.1 1394.7,171.5C1395.9,162.9 1395.9,161.0 1397.4,152.4C1398.7,145.0 1399.1,143.3 1400.8,136.0C1401.8,131.6 1402.4,130.7 1403.6,126.4C1404.9,121.5 1404.7,120.3 1406.3,115.5C1407.2,112.9 1407.3,112.2 1409.0,110.0C1409.9,108.9 1410.4,108.7 1411.8,108.7C1413.4,108.7 1414.1,108.8 1415.2,110.0C1417.0,112.0 1416.9,112.9 1417.9,115.5C1419.3,119.1 1419.4,120.0 1420.6,123.7C1421.9,127.7 1422.2,128.6 1423.4,132.6C1424.7,137.2 1425.0,138.2 1426.1,142.8C1428.0,150.8 1428.3,152.6 1430.2,160.6C1432.0,168.0 1432.3,169.7 1434.3,177.0C1436.0,183.2 1436.6,184.5 1438.4,190.7C1439.2,193.5 1439.3,194.2 1440.2,197.0C1441.8,201.9 1442.0,203.1 1443.9,207.9C1446.1,213.5 1446.7,214.7 1449.3,220.2C1451.6,225.2 1452.2,226.3 1454.8,231.2C1457.8,236.8 1458.4,238.1 1461.6,243.5C1464.1,247.7 1464.7,248.6 1467.5,252.6C1469.9,256.0 1470.5,256.7 1473.2,259.9C1476.5,263.7 1477.2,264.6 1480.8,268.1C1484.9,272.1 1486.0,272.8 1490.3,276.5C1493.9,279.6 1494.8,280.3 1498.5,283.2C1502.4,286.3 1503.3,287.0 1507.3,289.9C1513.8,294.6 1515.2,295.8 1521.9,300.2C1528.3,304.3 1529.8,305.1 1536.4,308.8C1541.5,311.6 1542.7,312.2 1548.1,314.6C1553.9,317.2 1555.2,317.8 1561.2,320.0C1569.7,323.2 1571.6,323.8 1580.2,326.7C1584.8,328.2 1585.8,328.4 1590.4,329.9C1598.9,332.7 1600.7,333.5 1609.3,336.1C1615.8,338.1 1617.3,338.3 1623.9,340.1C1628.5,341.4 1629.5,341.8 1634.1,343.0C1639.3,344.4 1640.5,344.8 1645.8,345.9C1652.3,347.3 1653.8,347.3 1660.4,348.5C1664.3,349.2 1665.2,349.4 1669.1,350.0C1673.7,350.7 1674.7,350.8 1679.3,351.4C1687.2,352.4 1688.9,352.6 1696.8,353.6C1703.4,354.4 1704.8,354.7 1711.4,355.4C1718.0,356.1 1719.4,356.0 1726.0,356.5C1732.6,357.0 1734.0,357.2 1740.6,357.7C1744.8,358.0 1745.8,358.1 1750.0,358.4C1752.7,358.6 1754.0,358.7 1756.0,358.8" stroke="#000" stroke-width="4" stroke-dasharray="27.7 7.05 4.4 7.05" stroke-dashoffset="8.45"/>
<path d="M1046.0,244.8C1048.4,246.3 1050.0,247.3 1053.3,249.4C1061.2,254.5 1062.9,255.6 1070.8,260.7C1080.0,266.7 1082.0,268.1 1091.2,274.1C1098.6,278.7 1100.2,279.7 1107.7,284.3C1112.2,287.1 1113.2,287.9 1117.9,290.4C1124.2,293.9 1125.7,294.5 1132.2,297.6C1141.4,302.0 1143.5,303.0 1152.8,307.2C1161.9,311.4 1164.0,312.3 1173.2,316.3C1177.8,318.3 1178.9,318.7 1183.5,320.6C1192.7,324.3 1194.7,325.2 1204.0,328.7C1213.2,332.1 1215.2,332.8 1224.5,336.0C1231.3,338.3 1232.8,338.9 1239.7,341.0C1249.7,344.1 1251.9,344.9 1262.0,347.5C1274.2,350.6 1277.0,351.4 1289.4,353.6C1300.7,355.6 1303.2,355.9 1314.6,357.0C1326.0,358.1 1328.6,358.4 1340.0,358.5C1346.2,358.5 1347.6,358.2 1353.7,357.3C1358.7,356.6 1359.7,356.0 1364.6,354.8C1368.3,353.9 1369.1,353.5 1372.8,352.6C1375.2,352.0 1375.8,351.3 1378.3,351.6C1380.4,351.9 1381.0,352.3 1382.4,353.9C1384.2,356.0 1384.2,356.8 1385.1,359.4C1386.3,362.7 1386.4,363.5 1387.2,366.9C1387.9,370.6 1388.0,371.4 1388.5,375.1C1389.2,380.6 1389.3,381.9 1389.9,387.4C1390.8,396.0 1391.0,397.9 1391.9,406.5C1392.8,415.1 1393.1,417.1 1394.0,425.7C1395.3,437.8 1395.5,440.4 1396.7,452.5C1397.6,461.7 1398.0,463.8 1398.8,473.0C1399.6,481.4 1399.7,483.3 1400.3,491.7C1401.0,501.7 1401.0,504.0 1401.6,514.0C1402.2,523.0 1402.2,525.0 1402.9,534.0C1403.7,543.2 1404.0,545.3 1404.9,554.5C1405.8,563.7 1406.0,565.8 1407.0,575.0C1407.9,583.6 1408.0,585.5 1409.0,594.1C1409.9,601.5 1410.0,603.1 1411.1,610.5C1411.9,616.1 1412.0,617.3 1413.1,622.8C1413.8,626.5 1413.9,627.4 1415.2,631.0C1415.8,632.7 1415.8,634.0 1417.2,634.5C1418.5,634.9 1418.8,633.6 1419.3,632.4C1420.9,628.5 1420.9,627.2 1422.0,622.8C1423.4,617.3 1423.6,616.1 1424.7,610.5C1426.1,603.8 1426.3,602.3 1427.5,595.5C1428.8,588.1 1428.9,586.5 1430.2,579.1C1431.4,572.3 1431.5,570.8 1432.9,564.1C1434.0,558.5 1434.3,557.3 1435.7,551.8C1436.8,547.4 1437.2,546.5 1438.4,542.2C1439.5,538.5 1439.6,537.7 1440.8,534.0C1442.1,529.9 1442.4,529.0 1443.9,524.9C1445.7,520.0 1445.8,518.7 1448.0,514.0C1450.1,509.7 1450.7,508.8 1453.4,504.8C1455.7,501.4 1456.3,500.7 1458.9,497.6C1461.8,494.1 1462.7,493.5 1465.7,490.2C1468.8,486.8 1469.5,486.0 1472.6,482.6C1474.4,480.6 1474.8,480.1 1476.7,478.2C1478.3,476.6 1478.7,476.2 1480.5,474.9C1482.4,473.6 1482.9,473.5 1484.9,472.4C1487.6,471.0 1488.2,470.7 1491.0,469.4C1493.8,468.1 1494.5,468.0 1497.2,466.6C1503.4,463.5 1504.7,462.7 1510.8,459.4C1517.0,456.0 1518.3,455.2 1524.5,451.8C1530.6,448.5 1532.0,447.7 1538.2,444.5C1544.3,441.3 1545.7,440.7 1551.8,437.6C1556.0,435.5 1556.9,435.0 1561.2,432.9C1566.4,430.4 1567.6,429.8 1572.9,427.4C1579.4,424.4 1580.9,423.8 1587.5,420.9C1594.0,418.1 1595.5,417.4 1602.1,414.7C1608.6,412.0 1610.0,411.3 1616.6,408.8C1623.1,406.3 1624.6,405.9 1631.2,403.7C1637.7,401.5 1639.2,401.0 1645.8,399.1C1652.3,397.2 1653.8,397.0 1660.4,395.3C1664.3,394.3 1665.2,394.0 1669.1,393.2C1675.0,391.9 1676.3,391.7 1682.2,390.6C1688.8,389.4 1690.2,389.1 1696.8,388.1C1703.4,387.1 1704.8,386.9 1711.4,386.0C1718.0,385.1 1719.4,385.0 1726.0,384.3C1732.6,383.6 1734.0,383.5 1740.6,383.0C1744.8,382.6 1745.8,382.6 1750.0,382.3C1752.7,382.1 1754.0,382.0 1756.0,381.9" stroke="#ff0000" stroke-width="4" stroke-linejoin="round"/>
</g>
<rect x="1050.7" y="85.3" width="700" height="576.5" fill="none" stroke="#000" stroke-width="1.8"/>
<g stroke="#000" stroke-width="1.8">
<line x1="1131.5" y1="661.8" x2="1131.5" y2="669.1"/>
<line x1="1239.2" y1="661.8" x2="1239.2" y2="669.1"/>
<line x1="1346.9" y1="661.8" x2="1346.9" y2="669.1"/>
<line x1="1454.5" y1="661.8" x2="1454.5" y2="669.1"/>
<line x1="1562.2" y1="661.8" x2="1562.2" y2="669.1"/>
<line x1="1669.9" y1="661.8" x2="1669.9" y2="669.1"/>
<line x1="1043.4" y1="610.4" x2="1050.7" y2="610.4"/>
<line x1="1043.4" y1="491.3" x2="1050.7" y2="491.3"/>
<line x1="1043.4" y1="372.1" x2="1050.7" y2="372.1"/>
<line x1="1043.4" y1="254.0" x2="1050.7" y2="254.0"/>
<line x1="1043.4" y1="135.3" x2="1050.7" y2="135.3"/>
</g>
<text class="d" x="1131.5" y="693.5" font-size="20.5" text-anchor="middle">110</text>
<text class="d" x="1239.2" y="693.5" font-size="20.5" text-anchor="middle">112</text>
<text class="d" x="1346.9" y="693.5" font-size="20.5" text-anchor="middle">114</text>
<text class="d" x="1454.5" y="693.5" font-size="20.5" text-anchor="middle">116</text>
<text class="d" x="1562.2" y="693.5" font-size="20.5" text-anchor="middle">118</text>
<text class="d" x="1669.9" y="693.5" font-size="20.5" text-anchor="middle">120</text>
<text class="d" x="1033.5" y="617.3" font-size="20.5" text-anchor="end">−0.010</text>
<text class="d" x="1033.5" y="498.2" font-size="20.5" text-anchor="end">−0.005</text>
<text class="d" x="1033.5" y="379.0" font-size="20.5" text-anchor="end">0.000</text>
<text class="d" x="1033.5" y="260.9" font-size="20.5" text-anchor="end">0.005</text>
<text class="d" x="1033.5" y="142.2" font-size="20.5" text-anchor="end">0.010</text>
<text class="d" x="1399.5" y="727.3" font-size="25.8" text-anchor="middle">Time (DOY)</text>
<text class="d" transform="translate(936.2,373.5) rotate(-90)" font-size="25.8" text-anchor="middle">radians/<tspan font-style="italic">m</tspan><tspan font-size="18" dy="-10">−2</tspan></text>
<text class="d" x="1398.8" y="70.3" font-size="30.3" text-anchor="middle">Rotation Measure and TEC, L4-L4</text>
<rect x="1515.7" y="96.1" width="224.2" height="72.1" rx="4" ry="4" fill="#fff" fill-opacity="0.8" stroke="#cccccc" stroke-width="1.3"/>
<path d="M1523.6,113.4H1564.5" stroke="#000" stroke-width="4" fill="none" stroke-dasharray="27.6 7 4.4 7"/>
<line x1="1521.3" y1="146.2" x2="1569.9" y2="146.2" stroke="#ff0000" stroke-width="4"/>
<text class="d" x="1584.3" y="120.6" font-size="21.4">unscaled TEC</text>
<text class="d" x="1584.3" y="153" font-size="21.4">RM</text>
</g>
</svg></body></html>
